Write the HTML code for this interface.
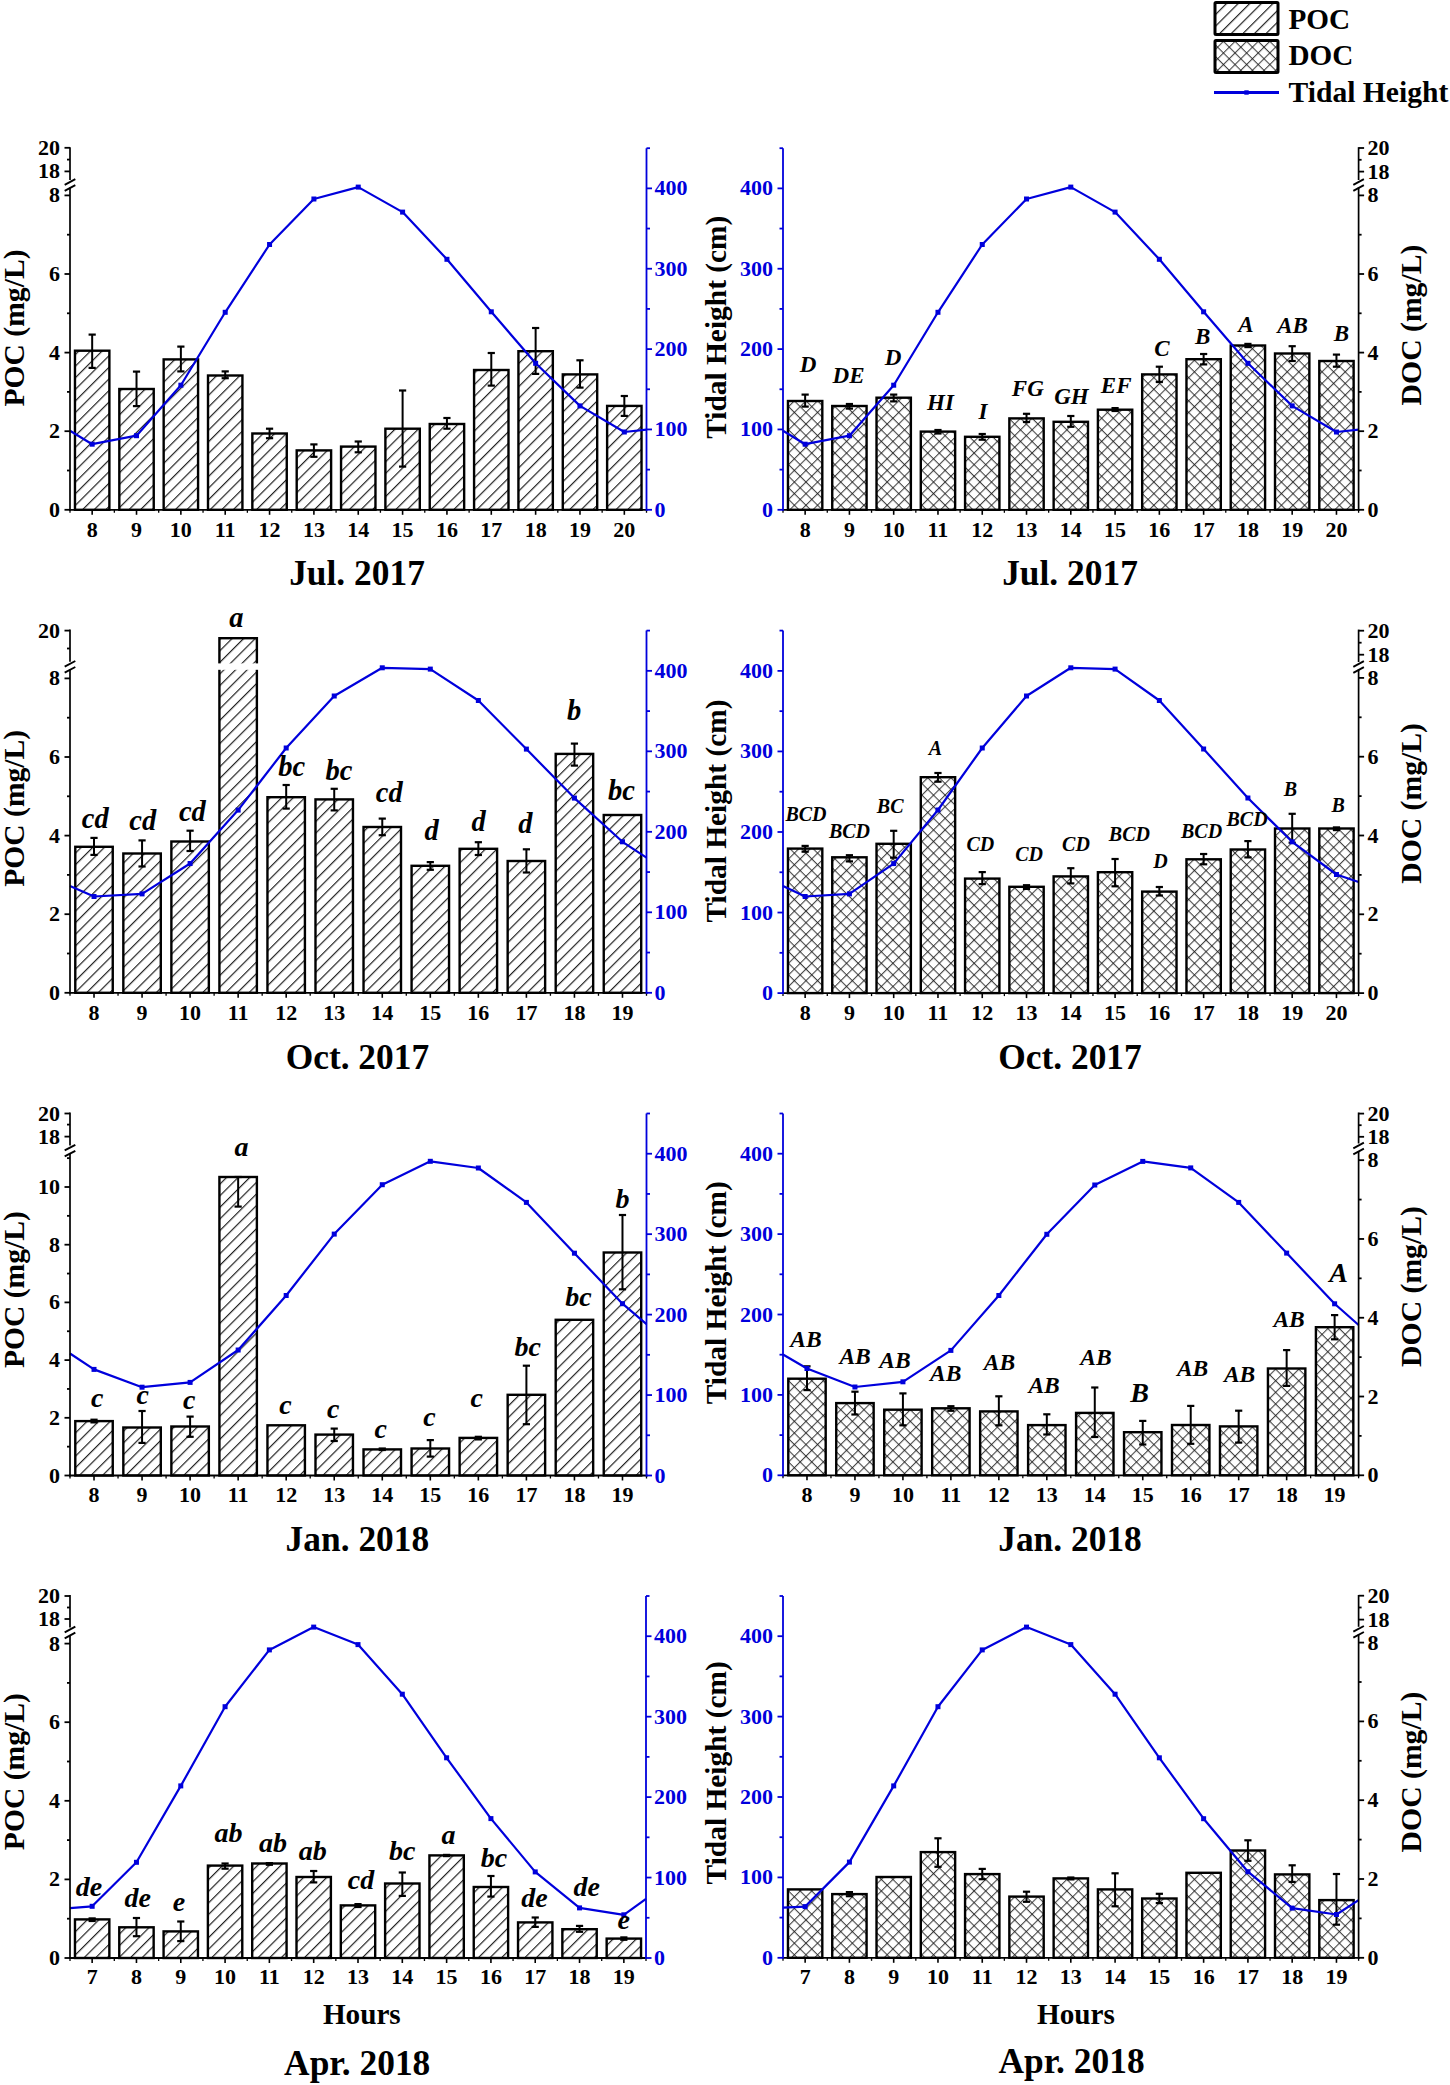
<!DOCTYPE html><html><head><meta charset="utf-8"><style>html,body{margin:0;padding:0;background:#fff;}svg{display:block;}text{font-family:"Liberation Serif",serif;font-weight:bold;}</style></head><body>
<svg width="1450" height="2085" viewBox="0 0 1450 2085">
<defs>
<pattern id="hatch" patternUnits="userSpaceOnUse" width="8.2" height="8.2" patternTransform="rotate(45)"><rect width="8.2" height="8.2" fill="#fff"/><line x1="0.6" y1="0" x2="0.6" y2="8.2" stroke="#1a1a1a" stroke-width="1.15"/></pattern>
<pattern id="cross" patternUnits="userSpaceOnUse" width="8.2" height="8.2" patternTransform="rotate(45)"><rect width="8.2" height="8.2" fill="#fff"/><line x1="0.6" y1="0" x2="0.6" y2="8.2" stroke="#1c1c1c" stroke-width="0.9"/><line x1="0" y1="0.6" x2="8.2" y2="0.6" stroke="#1c1c1c" stroke-width="0.9"/></pattern>
</defs>
<rect width="1450" height="2085" fill="#fff"/>
<rect x="74.97" y="350.7" width="34.41" height="159.1" fill="url(#hatch)" stroke="#000" stroke-width="2.4"/>
<line x1="92.17" y1="334.6" x2="92.17" y2="367.9" stroke="#000" stroke-width="2" stroke-linecap="butt"/>
<line x1="88.57" y1="334.6" x2="95.77" y2="334.6" stroke="#000" stroke-width="2.2" stroke-linecap="butt"/>
<line x1="88.57" y1="367.9" x2="95.77" y2="367.9" stroke="#000" stroke-width="2.2" stroke-linecap="butt"/>
<rect x="119.32" y="389" width="34.41" height="120.8" fill="url(#hatch)" stroke="#000" stroke-width="2.4"/>
<line x1="136.52" y1="371.6" x2="136.52" y2="406.1" stroke="#000" stroke-width="2" stroke-linecap="butt"/>
<line x1="132.92" y1="371.6" x2="140.12" y2="371.6" stroke="#000" stroke-width="2.2" stroke-linecap="butt"/>
<line x1="132.92" y1="406.1" x2="140.12" y2="406.1" stroke="#000" stroke-width="2.2" stroke-linecap="butt"/>
<rect x="163.66" y="359.4" width="34.41" height="150.4" fill="url(#hatch)" stroke="#000" stroke-width="2.4"/>
<line x1="180.87" y1="346.6" x2="180.87" y2="371.4" stroke="#000" stroke-width="2" stroke-linecap="butt"/>
<line x1="177.27" y1="346.6" x2="184.47" y2="346.6" stroke="#000" stroke-width="2.2" stroke-linecap="butt"/>
<line x1="177.27" y1="371.4" x2="184.47" y2="371.4" stroke="#000" stroke-width="2.2" stroke-linecap="butt"/>
<rect x="208.01" y="375.5" width="34.41" height="134.3" fill="url(#hatch)" stroke="#000" stroke-width="2.4"/>
<line x1="225.21" y1="371.4" x2="225.21" y2="378.2" stroke="#000" stroke-width="2" stroke-linecap="butt"/>
<line x1="221.61" y1="371.4" x2="228.81" y2="371.4" stroke="#000" stroke-width="2.2" stroke-linecap="butt"/>
<line x1="221.61" y1="378.2" x2="228.81" y2="378.2" stroke="#000" stroke-width="2.2" stroke-linecap="butt"/>
<rect x="252.35" y="433.5" width="34.41" height="76.3" fill="url(#hatch)" stroke="#000" stroke-width="2.4"/>
<line x1="269.56" y1="428.7" x2="269.56" y2="438.2" stroke="#000" stroke-width="2" stroke-linecap="butt"/>
<line x1="265.96" y1="428.7" x2="273.16" y2="428.7" stroke="#000" stroke-width="2.2" stroke-linecap="butt"/>
<line x1="265.96" y1="438.2" x2="273.16" y2="438.2" stroke="#000" stroke-width="2.2" stroke-linecap="butt"/>
<rect x="296.7" y="450.4" width="34.41" height="59.4" fill="url(#hatch)" stroke="#000" stroke-width="2.4"/>
<line x1="313.9" y1="444.4" x2="313.9" y2="456.8" stroke="#000" stroke-width="2" stroke-linecap="butt"/>
<line x1="310.3" y1="444.4" x2="317.5" y2="444.4" stroke="#000" stroke-width="2.2" stroke-linecap="butt"/>
<line x1="310.3" y1="456.8" x2="317.5" y2="456.8" stroke="#000" stroke-width="2.2" stroke-linecap="butt"/>
<rect x="341.05" y="446.6" width="34.41" height="63.2" fill="url(#hatch)" stroke="#000" stroke-width="2.4"/>
<line x1="358.25" y1="441.5" x2="358.25" y2="452.3" stroke="#000" stroke-width="2" stroke-linecap="butt"/>
<line x1="354.65" y1="441.5" x2="361.85" y2="441.5" stroke="#000" stroke-width="2.2" stroke-linecap="butt"/>
<line x1="354.65" y1="452.3" x2="361.85" y2="452.3" stroke="#000" stroke-width="2.2" stroke-linecap="butt"/>
<rect x="385.39" y="428.7" width="34.41" height="81.1" fill="url(#hatch)" stroke="#000" stroke-width="2.4"/>
<line x1="402.6" y1="390.5" x2="402.6" y2="466.6" stroke="#000" stroke-width="2" stroke-linecap="butt"/>
<line x1="399" y1="390.5" x2="406.2" y2="390.5" stroke="#000" stroke-width="2.2" stroke-linecap="butt"/>
<line x1="399" y1="466.6" x2="406.2" y2="466.6" stroke="#000" stroke-width="2.2" stroke-linecap="butt"/>
<rect x="429.74" y="424" width="34.41" height="85.8" fill="url(#hatch)" stroke="#000" stroke-width="2.4"/>
<line x1="446.94" y1="418" x2="446.94" y2="428.7" stroke="#000" stroke-width="2" stroke-linecap="butt"/>
<line x1="443.34" y1="418" x2="450.54" y2="418" stroke="#000" stroke-width="2.2" stroke-linecap="butt"/>
<line x1="443.34" y1="428.7" x2="450.54" y2="428.7" stroke="#000" stroke-width="2.2" stroke-linecap="butt"/>
<rect x="474.08" y="370" width="34.41" height="139.8" fill="url(#hatch)" stroke="#000" stroke-width="2.4"/>
<line x1="491.29" y1="353" x2="491.29" y2="385.6" stroke="#000" stroke-width="2" stroke-linecap="butt"/>
<line x1="487.69" y1="353" x2="494.89" y2="353" stroke="#000" stroke-width="2.2" stroke-linecap="butt"/>
<line x1="487.69" y1="385.6" x2="494.89" y2="385.6" stroke="#000" stroke-width="2.2" stroke-linecap="butt"/>
<rect x="518.43" y="351.2" width="34.41" height="158.6" fill="url(#hatch)" stroke="#000" stroke-width="2.4"/>
<line x1="535.63" y1="328" x2="535.63" y2="373.9" stroke="#000" stroke-width="2" stroke-linecap="butt"/>
<line x1="532.03" y1="328" x2="539.23" y2="328" stroke="#000" stroke-width="2.2" stroke-linecap="butt"/>
<line x1="532.03" y1="373.9" x2="539.23" y2="373.9" stroke="#000" stroke-width="2.2" stroke-linecap="butt"/>
<rect x="562.78" y="374.4" width="34.41" height="135.4" fill="url(#hatch)" stroke="#000" stroke-width="2.4"/>
<line x1="579.98" y1="360.3" x2="579.98" y2="387.6" stroke="#000" stroke-width="2" stroke-linecap="butt"/>
<line x1="576.38" y1="360.3" x2="583.58" y2="360.3" stroke="#000" stroke-width="2.2" stroke-linecap="butt"/>
<line x1="576.38" y1="387.6" x2="583.58" y2="387.6" stroke="#000" stroke-width="2.2" stroke-linecap="butt"/>
<rect x="607.12" y="405.9" width="34.41" height="103.9" fill="url(#hatch)" stroke="#000" stroke-width="2.4"/>
<line x1="624.33" y1="396" x2="624.33" y2="415.9" stroke="#000" stroke-width="2" stroke-linecap="butt"/>
<line x1="620.73" y1="396" x2="627.93" y2="396" stroke="#000" stroke-width="2.2" stroke-linecap="butt"/>
<line x1="620.73" y1="415.9" x2="627.93" y2="415.9" stroke="#000" stroke-width="2.2" stroke-linecap="butt"/>
<polyline fill="none" stroke="#0000dc" stroke-width="2.2" stroke-linejoin="round" points="70,430.8 92.17,444.2 136.52,435.7 180.87,385.2 225.21,312.3 269.56,244.5 313.9,199 358.25,187.1 402.6,212.1 446.94,259.3 491.29,311.8 535.63,363.3 579.98,405.9 624.33,432 646.5,429.6"/>
<rect x="89.67" y="441.7" width="5" height="5" fill="#0000dc"/>
<rect x="134.02" y="433.2" width="5" height="5" fill="#0000dc"/>
<rect x="178.37" y="382.7" width="5" height="5" fill="#0000dc"/>
<rect x="222.71" y="309.8" width="5" height="5" fill="#0000dc"/>
<rect x="267.06" y="242" width="5" height="5" fill="#0000dc"/>
<rect x="311.4" y="196.5" width="5" height="5" fill="#0000dc"/>
<rect x="355.75" y="184.6" width="5" height="5" fill="#0000dc"/>
<rect x="400.1" y="209.6" width="5" height="5" fill="#0000dc"/>
<rect x="444.44" y="256.8" width="5" height="5" fill="#0000dc"/>
<rect x="488.79" y="309.3" width="5" height="5" fill="#0000dc"/>
<rect x="533.13" y="360.8" width="5" height="5" fill="#0000dc"/>
<rect x="577.48" y="403.4" width="5" height="5" fill="#0000dc"/>
<rect x="621.83" y="429.5" width="5" height="5" fill="#0000dc"/>
<line x1="69" y1="509.8" x2="647.5" y2="509.8" stroke="#000" stroke-width="1.8" stroke-linecap="butt"/>
<line x1="92.17" y1="509.8" x2="92.17" y2="514.8" stroke="#000" stroke-width="1.6" stroke-linecap="butt"/>
<text x="92.17" y="536.5" font-size="22" text-anchor="middle" fill="#000" style="" >8</text>
<line x1="136.52" y1="509.8" x2="136.52" y2="514.8" stroke="#000" stroke-width="1.6" stroke-linecap="butt"/>
<text x="136.52" y="536.5" font-size="22" text-anchor="middle" fill="#000" style="" >9</text>
<line x1="180.87" y1="509.8" x2="180.87" y2="514.8" stroke="#000" stroke-width="1.6" stroke-linecap="butt"/>
<text x="180.87" y="536.5" font-size="22" text-anchor="middle" fill="#000" style="" >10</text>
<line x1="225.21" y1="509.8" x2="225.21" y2="514.8" stroke="#000" stroke-width="1.6" stroke-linecap="butt"/>
<text x="225.21" y="536.5" font-size="22" text-anchor="middle" fill="#000" style="" >11</text>
<line x1="269.56" y1="509.8" x2="269.56" y2="514.8" stroke="#000" stroke-width="1.6" stroke-linecap="butt"/>
<text x="269.56" y="536.5" font-size="22" text-anchor="middle" fill="#000" style="" >12</text>
<line x1="313.9" y1="509.8" x2="313.9" y2="514.8" stroke="#000" stroke-width="1.6" stroke-linecap="butt"/>
<text x="313.9" y="536.5" font-size="22" text-anchor="middle" fill="#000" style="" >13</text>
<line x1="358.25" y1="509.8" x2="358.25" y2="514.8" stroke="#000" stroke-width="1.6" stroke-linecap="butt"/>
<text x="358.25" y="536.5" font-size="22" text-anchor="middle" fill="#000" style="" >14</text>
<line x1="402.6" y1="509.8" x2="402.6" y2="514.8" stroke="#000" stroke-width="1.6" stroke-linecap="butt"/>
<text x="402.6" y="536.5" font-size="22" text-anchor="middle" fill="#000" style="" >15</text>
<line x1="446.94" y1="509.8" x2="446.94" y2="514.8" stroke="#000" stroke-width="1.6" stroke-linecap="butt"/>
<text x="446.94" y="536.5" font-size="22" text-anchor="middle" fill="#000" style="" >16</text>
<line x1="491.29" y1="509.8" x2="491.29" y2="514.8" stroke="#000" stroke-width="1.6" stroke-linecap="butt"/>
<text x="491.29" y="536.5" font-size="22" text-anchor="middle" fill="#000" style="" >17</text>
<line x1="535.63" y1="509.8" x2="535.63" y2="514.8" stroke="#000" stroke-width="1.6" stroke-linecap="butt"/>
<text x="535.63" y="536.5" font-size="22" text-anchor="middle" fill="#000" style="" >18</text>
<line x1="579.98" y1="509.8" x2="579.98" y2="514.8" stroke="#000" stroke-width="1.6" stroke-linecap="butt"/>
<text x="579.98" y="536.5" font-size="22" text-anchor="middle" fill="#000" style="" >19</text>
<line x1="624.33" y1="509.8" x2="624.33" y2="514.8" stroke="#000" stroke-width="1.6" stroke-linecap="butt"/>
<text x="624.33" y="536.5" font-size="22" text-anchor="middle" fill="#000" style="" >20</text>
<line x1="70" y1="509.8" x2="70" y2="512.8" stroke="#000" stroke-width="1.3" stroke-linecap="butt"/>
<line x1="114.35" y1="509.8" x2="114.35" y2="512.8" stroke="#000" stroke-width="1.3" stroke-linecap="butt"/>
<line x1="158.69" y1="509.8" x2="158.69" y2="512.8" stroke="#000" stroke-width="1.3" stroke-linecap="butt"/>
<line x1="203.04" y1="509.8" x2="203.04" y2="512.8" stroke="#000" stroke-width="1.3" stroke-linecap="butt"/>
<line x1="247.38" y1="509.8" x2="247.38" y2="512.8" stroke="#000" stroke-width="1.3" stroke-linecap="butt"/>
<line x1="291.73" y1="509.8" x2="291.73" y2="512.8" stroke="#000" stroke-width="1.3" stroke-linecap="butt"/>
<line x1="336.08" y1="509.8" x2="336.08" y2="512.8" stroke="#000" stroke-width="1.3" stroke-linecap="butt"/>
<line x1="380.42" y1="509.8" x2="380.42" y2="512.8" stroke="#000" stroke-width="1.3" stroke-linecap="butt"/>
<line x1="424.77" y1="509.8" x2="424.77" y2="512.8" stroke="#000" stroke-width="1.3" stroke-linecap="butt"/>
<line x1="469.12" y1="509.8" x2="469.12" y2="512.8" stroke="#000" stroke-width="1.3" stroke-linecap="butt"/>
<line x1="513.46" y1="509.8" x2="513.46" y2="512.8" stroke="#000" stroke-width="1.3" stroke-linecap="butt"/>
<line x1="557.81" y1="509.8" x2="557.81" y2="512.8" stroke="#000" stroke-width="1.3" stroke-linecap="butt"/>
<line x1="602.15" y1="509.8" x2="602.15" y2="512.8" stroke="#000" stroke-width="1.3" stroke-linecap="butt"/>
<line x1="646.5" y1="509.8" x2="646.5" y2="512.8" stroke="#000" stroke-width="1.3" stroke-linecap="butt"/>
<line x1="646.5" y1="148.2" x2="646.5" y2="510.8" stroke="#0000dc" stroke-width="1.8" stroke-linecap="butt"/>
<line x1="646.5" y1="509.8" x2="652" y2="509.8" stroke="#0000dc" stroke-width="1.8" stroke-linecap="butt"/>
<text x="654.5" y="516.8" font-size="22" text-anchor="start" fill="#0000dc" style="" >0</text>
<line x1="646.5" y1="469.62" x2="650" y2="469.62" stroke="#0000dc" stroke-width="1.8" stroke-linecap="butt"/>
<line x1="646.5" y1="429.44" x2="652" y2="429.44" stroke="#0000dc" stroke-width="1.8" stroke-linecap="butt"/>
<text x="654.5" y="436.44" font-size="22" text-anchor="start" fill="#0000dc" style="" >100</text>
<line x1="646.5" y1="389.27" x2="650" y2="389.27" stroke="#0000dc" stroke-width="1.8" stroke-linecap="butt"/>
<line x1="646.5" y1="349.09" x2="652" y2="349.09" stroke="#0000dc" stroke-width="1.8" stroke-linecap="butt"/>
<text x="654.5" y="356.09" font-size="22" text-anchor="start" fill="#0000dc" style="" >200</text>
<line x1="646.5" y1="308.91" x2="650" y2="308.91" stroke="#0000dc" stroke-width="1.8" stroke-linecap="butt"/>
<line x1="646.5" y1="268.73" x2="652" y2="268.73" stroke="#0000dc" stroke-width="1.8" stroke-linecap="butt"/>
<text x="654.5" y="275.73" font-size="22" text-anchor="start" fill="#0000dc" style="" >300</text>
<line x1="646.5" y1="228.56" x2="650" y2="228.56" stroke="#0000dc" stroke-width="1.8" stroke-linecap="butt"/>
<line x1="646.5" y1="188.38" x2="652" y2="188.38" stroke="#0000dc" stroke-width="1.8" stroke-linecap="butt"/>
<text x="654.5" y="195.38" font-size="22" text-anchor="start" fill="#0000dc" style="" >400</text>
<line x1="646.5" y1="148.2" x2="650" y2="148.2" stroke="#0000dc" stroke-width="1.8" stroke-linecap="butt"/>
<line x1="70" y1="510.8" x2="70" y2="187.5" stroke="#000" stroke-width="1.7" stroke-linecap="butt"/>
<line x1="70" y1="180" x2="70" y2="147.2" stroke="#000" stroke-width="1.7" stroke-linecap="butt"/>
<line x1="64.7" y1="184.8" x2="75.3" y2="179.2" stroke="#000" stroke-width="1.9" stroke-linecap="butt"/>
<line x1="64.7" y1="190.8" x2="75.3" y2="185.2" stroke="#000" stroke-width="1.9" stroke-linecap="butt"/>
<line x1="70" y1="509.8" x2="64.5" y2="509.8" stroke="#000" stroke-width="1.8" stroke-linecap="butt"/>
<text x="60" y="516.8" font-size="22" text-anchor="end" fill="#000" style="" >0</text>
<line x1="70" y1="470.5" x2="67" y2="470.5" stroke="#000" stroke-width="1.8" stroke-linecap="butt"/>
<line x1="70" y1="431.2" x2="64.5" y2="431.2" stroke="#000" stroke-width="1.8" stroke-linecap="butt"/>
<text x="60" y="438.2" font-size="22" text-anchor="end" fill="#000" style="" >2</text>
<line x1="70" y1="391.9" x2="67" y2="391.9" stroke="#000" stroke-width="1.8" stroke-linecap="butt"/>
<line x1="70" y1="352.6" x2="64.5" y2="352.6" stroke="#000" stroke-width="1.8" stroke-linecap="butt"/>
<text x="60" y="359.6" font-size="22" text-anchor="end" fill="#000" style="" >4</text>
<line x1="70" y1="313.3" x2="67" y2="313.3" stroke="#000" stroke-width="1.8" stroke-linecap="butt"/>
<line x1="70" y1="274" x2="64.5" y2="274" stroke="#000" stroke-width="1.8" stroke-linecap="butt"/>
<text x="60" y="281" font-size="22" text-anchor="end" fill="#000" style="" >6</text>
<line x1="70" y1="234.7" x2="67" y2="234.7" stroke="#000" stroke-width="1.8" stroke-linecap="butt"/>
<line x1="70" y1="195.4" x2="64.5" y2="195.4" stroke="#000" stroke-width="1.8" stroke-linecap="butt"/>
<text x="60" y="202.4" font-size="22" text-anchor="end" fill="#000" style="" >8</text>
<line x1="70" y1="171.4" x2="64.5" y2="171.4" stroke="#000" stroke-width="1.8" stroke-linecap="butt"/>
<text x="60" y="178.4" font-size="22" text-anchor="end" fill="#000" style="" >18</text>
<line x1="70" y1="159.6" x2="67" y2="159.6" stroke="#000" stroke-width="1.8" stroke-linecap="butt"/>
<line x1="70" y1="147.8" x2="64.5" y2="147.8" stroke="#000" stroke-width="1.8" stroke-linecap="butt"/>
<text x="60" y="154.8" font-size="22" text-anchor="end" fill="#000" style="" >20</text>
<text transform="translate(23.5,328) rotate(-90)" font-size="29.6" text-anchor="middle">POC (mg/L)</text>
<text transform="translate(726.2,327.2) rotate(-90)" font-size="29.4" text-anchor="middle">Tidal Height (cm)</text>
<text x="357" y="585.2" font-size="35.4" text-anchor="middle" fill="#000" style="" >Jul. 2017</text>
<rect x="787.96" y="401" width="34.35" height="108.8" fill="url(#cross)" stroke="#000" stroke-width="2.4"/>
<line x1="805.14" y1="394.6" x2="805.14" y2="406.6" stroke="#000" stroke-width="2" stroke-linecap="butt"/>
<line x1="801.54" y1="394.6" x2="808.74" y2="394.6" stroke="#000" stroke-width="2.2" stroke-linecap="butt"/>
<line x1="801.54" y1="406.6" x2="808.74" y2="406.6" stroke="#000" stroke-width="2.2" stroke-linecap="butt"/>
<rect x="832.24" y="406" width="34.35" height="103.8" fill="url(#cross)" stroke="#000" stroke-width="2.4"/>
<line x1="849.42" y1="404" x2="849.42" y2="408.6" stroke="#000" stroke-width="2" stroke-linecap="butt"/>
<line x1="845.82" y1="404" x2="853.02" y2="404" stroke="#000" stroke-width="2.2" stroke-linecap="butt"/>
<line x1="845.82" y1="408.6" x2="853.02" y2="408.6" stroke="#000" stroke-width="2.2" stroke-linecap="butt"/>
<rect x="876.52" y="397.7" width="34.35" height="112.1" fill="url(#cross)" stroke="#000" stroke-width="2.4"/>
<line x1="893.69" y1="394.6" x2="893.69" y2="401.4" stroke="#000" stroke-width="2" stroke-linecap="butt"/>
<line x1="890.09" y1="394.6" x2="897.29" y2="394.6" stroke="#000" stroke-width="2.2" stroke-linecap="butt"/>
<line x1="890.09" y1="401.4" x2="897.29" y2="401.4" stroke="#000" stroke-width="2.2" stroke-linecap="butt"/>
<rect x="920.79" y="431.6" width="34.35" height="78.2" fill="url(#cross)" stroke="#000" stroke-width="2.4"/>
<line x1="937.97" y1="430" x2="937.97" y2="433.5" stroke="#000" stroke-width="2" stroke-linecap="butt"/>
<line x1="934.37" y1="430" x2="941.57" y2="430" stroke="#000" stroke-width="2.2" stroke-linecap="butt"/>
<line x1="934.37" y1="433.5" x2="941.57" y2="433.5" stroke="#000" stroke-width="2.2" stroke-linecap="butt"/>
<rect x="965.07" y="436.8" width="34.35" height="73" fill="url(#cross)" stroke="#000" stroke-width="2.4"/>
<line x1="982.25" y1="434" x2="982.25" y2="439.7" stroke="#000" stroke-width="2" stroke-linecap="butt"/>
<line x1="978.65" y1="434" x2="985.85" y2="434" stroke="#000" stroke-width="2.2" stroke-linecap="butt"/>
<line x1="978.65" y1="439.7" x2="985.85" y2="439.7" stroke="#000" stroke-width="2.2" stroke-linecap="butt"/>
<rect x="1009.35" y="418.4" width="34.35" height="91.4" fill="url(#cross)" stroke="#000" stroke-width="2.4"/>
<line x1="1026.52" y1="413.8" x2="1026.52" y2="422" stroke="#000" stroke-width="2" stroke-linecap="butt"/>
<line x1="1022.92" y1="413.8" x2="1030.12" y2="413.8" stroke="#000" stroke-width="2.2" stroke-linecap="butt"/>
<line x1="1022.92" y1="422" x2="1030.12" y2="422" stroke="#000" stroke-width="2.2" stroke-linecap="butt"/>
<rect x="1053.63" y="421.8" width="34.35" height="88" fill="url(#cross)" stroke="#000" stroke-width="2.4"/>
<line x1="1070.8" y1="416" x2="1070.8" y2="426.8" stroke="#000" stroke-width="2" stroke-linecap="butt"/>
<line x1="1067.2" y1="416" x2="1074.4" y2="416" stroke="#000" stroke-width="2.2" stroke-linecap="butt"/>
<line x1="1067.2" y1="426.8" x2="1074.4" y2="426.8" stroke="#000" stroke-width="2.2" stroke-linecap="butt"/>
<rect x="1097.9" y="409.7" width="34.35" height="100.1" fill="url(#cross)" stroke="#000" stroke-width="2.4"/>
<line x1="1115.08" y1="408.1" x2="1115.08" y2="411" stroke="#000" stroke-width="2" stroke-linecap="butt"/>
<line x1="1111.48" y1="408.1" x2="1118.68" y2="408.1" stroke="#000" stroke-width="2.2" stroke-linecap="butt"/>
<line x1="1111.48" y1="411" x2="1118.68" y2="411" stroke="#000" stroke-width="2.2" stroke-linecap="butt"/>
<rect x="1142.18" y="374.4" width="34.35" height="135.4" fill="url(#cross)" stroke="#000" stroke-width="2.4"/>
<line x1="1159.35" y1="366.7" x2="1159.35" y2="382" stroke="#000" stroke-width="2" stroke-linecap="butt"/>
<line x1="1155.75" y1="366.7" x2="1162.95" y2="366.7" stroke="#000" stroke-width="2.2" stroke-linecap="butt"/>
<line x1="1155.75" y1="382" x2="1162.95" y2="382" stroke="#000" stroke-width="2.2" stroke-linecap="butt"/>
<rect x="1186.46" y="359.2" width="34.35" height="150.6" fill="url(#cross)" stroke="#000" stroke-width="2.4"/>
<line x1="1203.63" y1="354" x2="1203.63" y2="364.4" stroke="#000" stroke-width="2" stroke-linecap="butt"/>
<line x1="1200.03" y1="354" x2="1207.23" y2="354" stroke="#000" stroke-width="2.2" stroke-linecap="butt"/>
<line x1="1200.03" y1="364.4" x2="1207.23" y2="364.4" stroke="#000" stroke-width="2.2" stroke-linecap="butt"/>
<rect x="1230.73" y="345.5" width="34.35" height="164.3" fill="url(#cross)" stroke="#000" stroke-width="2.4"/>
<line x1="1247.91" y1="343.9" x2="1247.91" y2="347.1" stroke="#000" stroke-width="2" stroke-linecap="butt"/>
<line x1="1244.31" y1="343.9" x2="1251.51" y2="343.9" stroke="#000" stroke-width="2.2" stroke-linecap="butt"/>
<line x1="1244.31" y1="347.1" x2="1251.51" y2="347.1" stroke="#000" stroke-width="2.2" stroke-linecap="butt"/>
<rect x="1275.01" y="353.5" width="34.35" height="156.3" fill="url(#cross)" stroke="#000" stroke-width="2.4"/>
<line x1="1292.18" y1="346.2" x2="1292.18" y2="361" stroke="#000" stroke-width="2" stroke-linecap="butt"/>
<line x1="1288.58" y1="346.2" x2="1295.78" y2="346.2" stroke="#000" stroke-width="2.2" stroke-linecap="butt"/>
<line x1="1288.58" y1="361" x2="1295.78" y2="361" stroke="#000" stroke-width="2.2" stroke-linecap="butt"/>
<rect x="1319.29" y="361" width="34.35" height="148.8" fill="url(#cross)" stroke="#000" stroke-width="2.4"/>
<line x1="1336.46" y1="354.6" x2="1336.46" y2="366.7" stroke="#000" stroke-width="2" stroke-linecap="butt"/>
<line x1="1332.86" y1="354.6" x2="1340.06" y2="354.6" stroke="#000" stroke-width="2.2" stroke-linecap="butt"/>
<line x1="1332.86" y1="366.7" x2="1340.06" y2="366.7" stroke="#000" stroke-width="2.2" stroke-linecap="butt"/>
<polyline fill="none" stroke="#0000dc" stroke-width="2.2" stroke-linejoin="round" points="783,430.8 805.14,444.2 849.42,435.7 893.69,385.2 937.97,312.3 982.25,244.5 1026.52,199 1070.8,187.1 1115.08,212.1 1159.35,259.3 1203.63,311.8 1247.91,363.3 1292.18,405.9 1336.46,432 1358.6,429.6"/>
<rect x="802.64" y="441.7" width="5" height="5" fill="#0000dc"/>
<rect x="846.92" y="433.2" width="5" height="5" fill="#0000dc"/>
<rect x="891.19" y="382.7" width="5" height="5" fill="#0000dc"/>
<rect x="935.47" y="309.8" width="5" height="5" fill="#0000dc"/>
<rect x="979.75" y="242" width="5" height="5" fill="#0000dc"/>
<rect x="1024.02" y="196.5" width="5" height="5" fill="#0000dc"/>
<rect x="1068.3" y="184.6" width="5" height="5" fill="#0000dc"/>
<rect x="1112.58" y="209.6" width="5" height="5" fill="#0000dc"/>
<rect x="1156.85" y="256.8" width="5" height="5" fill="#0000dc"/>
<rect x="1201.13" y="309.3" width="5" height="5" fill="#0000dc"/>
<rect x="1245.41" y="360.8" width="5" height="5" fill="#0000dc"/>
<rect x="1289.68" y="403.4" width="5" height="5" fill="#0000dc"/>
<rect x="1333.96" y="429.5" width="5" height="5" fill="#0000dc"/>
<text x="808" y="372" font-size="23" text-anchor="middle" fill="#000" style="font-style:italic;" >D</text>
<text x="848.5" y="382.8" font-size="23" text-anchor="middle" fill="#000" style="font-style:italic;" >DE</text>
<text x="893" y="364.8" font-size="23" text-anchor="middle" fill="#000" style="font-style:italic;" >D</text>
<text x="940.5" y="410" font-size="23" text-anchor="middle" fill="#000" style="font-style:italic;" >HI</text>
<text x="983" y="419" font-size="23" text-anchor="middle" fill="#000" style="font-style:italic;" >I</text>
<text x="1027.8" y="396.2" font-size="23" text-anchor="middle" fill="#000" style="font-style:italic;" >FG</text>
<text x="1071.4" y="403.6" font-size="23" text-anchor="middle" fill="#000" style="font-style:italic;" >GH</text>
<text x="1116.2" y="393.3" font-size="23" text-anchor="middle" fill="#000" style="font-style:italic;" >EF</text>
<text x="1161.8" y="355.8" font-size="23" text-anchor="middle" fill="#000" style="font-style:italic;" >C</text>
<text x="1202.7" y="344.4" font-size="23" text-anchor="middle" fill="#000" style="font-style:italic;" >B</text>
<text x="1246" y="331.9" font-size="23" text-anchor="middle" fill="#000" style="font-style:italic;" >A</text>
<text x="1292.6" y="332.5" font-size="23" text-anchor="middle" fill="#000" style="font-style:italic;" >AB</text>
<text x="1341.5" y="341" font-size="23" text-anchor="middle" fill="#000" style="font-style:italic;" >B</text>
<line x1="782" y1="509.8" x2="1359.6" y2="509.8" stroke="#000" stroke-width="1.8" stroke-linecap="butt"/>
<line x1="805.14" y1="509.8" x2="805.14" y2="514.8" stroke="#000" stroke-width="1.6" stroke-linecap="butt"/>
<text x="805.14" y="536.5" font-size="22" text-anchor="middle" fill="#000" style="" >8</text>
<line x1="849.42" y1="509.8" x2="849.42" y2="514.8" stroke="#000" stroke-width="1.6" stroke-linecap="butt"/>
<text x="849.42" y="536.5" font-size="22" text-anchor="middle" fill="#000" style="" >9</text>
<line x1="893.69" y1="509.8" x2="893.69" y2="514.8" stroke="#000" stroke-width="1.6" stroke-linecap="butt"/>
<text x="893.69" y="536.5" font-size="22" text-anchor="middle" fill="#000" style="" >10</text>
<line x1="937.97" y1="509.8" x2="937.97" y2="514.8" stroke="#000" stroke-width="1.6" stroke-linecap="butt"/>
<text x="937.97" y="536.5" font-size="22" text-anchor="middle" fill="#000" style="" >11</text>
<line x1="982.25" y1="509.8" x2="982.25" y2="514.8" stroke="#000" stroke-width="1.6" stroke-linecap="butt"/>
<text x="982.25" y="536.5" font-size="22" text-anchor="middle" fill="#000" style="" >12</text>
<line x1="1026.52" y1="509.8" x2="1026.52" y2="514.8" stroke="#000" stroke-width="1.6" stroke-linecap="butt"/>
<text x="1026.52" y="536.5" font-size="22" text-anchor="middle" fill="#000" style="" >13</text>
<line x1="1070.8" y1="509.8" x2="1070.8" y2="514.8" stroke="#000" stroke-width="1.6" stroke-linecap="butt"/>
<text x="1070.8" y="536.5" font-size="22" text-anchor="middle" fill="#000" style="" >14</text>
<line x1="1115.08" y1="509.8" x2="1115.08" y2="514.8" stroke="#000" stroke-width="1.6" stroke-linecap="butt"/>
<text x="1115.08" y="536.5" font-size="22" text-anchor="middle" fill="#000" style="" >15</text>
<line x1="1159.35" y1="509.8" x2="1159.35" y2="514.8" stroke="#000" stroke-width="1.6" stroke-linecap="butt"/>
<text x="1159.35" y="536.5" font-size="22" text-anchor="middle" fill="#000" style="" >16</text>
<line x1="1203.63" y1="509.8" x2="1203.63" y2="514.8" stroke="#000" stroke-width="1.6" stroke-linecap="butt"/>
<text x="1203.63" y="536.5" font-size="22" text-anchor="middle" fill="#000" style="" >17</text>
<line x1="1247.91" y1="509.8" x2="1247.91" y2="514.8" stroke="#000" stroke-width="1.6" stroke-linecap="butt"/>
<text x="1247.91" y="536.5" font-size="22" text-anchor="middle" fill="#000" style="" >18</text>
<line x1="1292.18" y1="509.8" x2="1292.18" y2="514.8" stroke="#000" stroke-width="1.6" stroke-linecap="butt"/>
<text x="1292.18" y="536.5" font-size="22" text-anchor="middle" fill="#000" style="" >19</text>
<line x1="1336.46" y1="509.8" x2="1336.46" y2="514.8" stroke="#000" stroke-width="1.6" stroke-linecap="butt"/>
<text x="1336.46" y="536.5" font-size="22" text-anchor="middle" fill="#000" style="" >20</text>
<line x1="783" y1="509.8" x2="783" y2="512.8" stroke="#000" stroke-width="1.3" stroke-linecap="butt"/>
<line x1="827.28" y1="509.8" x2="827.28" y2="512.8" stroke="#000" stroke-width="1.3" stroke-linecap="butt"/>
<line x1="871.55" y1="509.8" x2="871.55" y2="512.8" stroke="#000" stroke-width="1.3" stroke-linecap="butt"/>
<line x1="915.83" y1="509.8" x2="915.83" y2="512.8" stroke="#000" stroke-width="1.3" stroke-linecap="butt"/>
<line x1="960.11" y1="509.8" x2="960.11" y2="512.8" stroke="#000" stroke-width="1.3" stroke-linecap="butt"/>
<line x1="1004.38" y1="509.8" x2="1004.38" y2="512.8" stroke="#000" stroke-width="1.3" stroke-linecap="butt"/>
<line x1="1048.66" y1="509.8" x2="1048.66" y2="512.8" stroke="#000" stroke-width="1.3" stroke-linecap="butt"/>
<line x1="1092.94" y1="509.8" x2="1092.94" y2="512.8" stroke="#000" stroke-width="1.3" stroke-linecap="butt"/>
<line x1="1137.22" y1="509.8" x2="1137.22" y2="512.8" stroke="#000" stroke-width="1.3" stroke-linecap="butt"/>
<line x1="1181.49" y1="509.8" x2="1181.49" y2="512.8" stroke="#000" stroke-width="1.3" stroke-linecap="butt"/>
<line x1="1225.77" y1="509.8" x2="1225.77" y2="512.8" stroke="#000" stroke-width="1.3" stroke-linecap="butt"/>
<line x1="1270.05" y1="509.8" x2="1270.05" y2="512.8" stroke="#000" stroke-width="1.3" stroke-linecap="butt"/>
<line x1="1314.32" y1="509.8" x2="1314.32" y2="512.8" stroke="#000" stroke-width="1.3" stroke-linecap="butt"/>
<line x1="1358.6" y1="509.8" x2="1358.6" y2="512.8" stroke="#000" stroke-width="1.3" stroke-linecap="butt"/>
<line x1="783" y1="148.2" x2="783" y2="510.8" stroke="#0000dc" stroke-width="1.8" stroke-linecap="butt"/>
<line x1="783" y1="509.8" x2="777.5" y2="509.8" stroke="#0000dc" stroke-width="1.8" stroke-linecap="butt"/>
<text x="773" y="516.8" font-size="22" text-anchor="end" fill="#0000dc" style="" >0</text>
<line x1="783" y1="469.62" x2="779.5" y2="469.62" stroke="#0000dc" stroke-width="1.8" stroke-linecap="butt"/>
<line x1="783" y1="429.44" x2="777.5" y2="429.44" stroke="#0000dc" stroke-width="1.8" stroke-linecap="butt"/>
<text x="773" y="436.44" font-size="22" text-anchor="end" fill="#0000dc" style="" >100</text>
<line x1="783" y1="389.27" x2="779.5" y2="389.27" stroke="#0000dc" stroke-width="1.8" stroke-linecap="butt"/>
<line x1="783" y1="349.09" x2="777.5" y2="349.09" stroke="#0000dc" stroke-width="1.8" stroke-linecap="butt"/>
<text x="773" y="356.09" font-size="22" text-anchor="end" fill="#0000dc" style="" >200</text>
<line x1="783" y1="308.91" x2="779.5" y2="308.91" stroke="#0000dc" stroke-width="1.8" stroke-linecap="butt"/>
<line x1="783" y1="268.73" x2="777.5" y2="268.73" stroke="#0000dc" stroke-width="1.8" stroke-linecap="butt"/>
<text x="773" y="275.73" font-size="22" text-anchor="end" fill="#0000dc" style="" >300</text>
<line x1="783" y1="228.56" x2="779.5" y2="228.56" stroke="#0000dc" stroke-width="1.8" stroke-linecap="butt"/>
<line x1="783" y1="188.38" x2="777.5" y2="188.38" stroke="#0000dc" stroke-width="1.8" stroke-linecap="butt"/>
<text x="773" y="195.38" font-size="22" text-anchor="end" fill="#0000dc" style="" >400</text>
<line x1="783" y1="148.2" x2="779.5" y2="148.2" stroke="#0000dc" stroke-width="1.8" stroke-linecap="butt"/>
<line x1="1358.6" y1="510.8" x2="1358.6" y2="187.5" stroke="#000" stroke-width="1.7" stroke-linecap="butt"/>
<line x1="1358.6" y1="180" x2="1358.6" y2="147.2" stroke="#000" stroke-width="1.7" stroke-linecap="butt"/>
<line x1="1353.3" y1="184.8" x2="1363.9" y2="179.2" stroke="#000" stroke-width="1.9" stroke-linecap="butt"/>
<line x1="1353.3" y1="190.8" x2="1363.9" y2="185.2" stroke="#000" stroke-width="1.9" stroke-linecap="butt"/>
<line x1="1358.6" y1="509.8" x2="1364.1" y2="509.8" stroke="#000" stroke-width="1.8" stroke-linecap="butt"/>
<text x="1367.6" y="516.8" font-size="22" text-anchor="start" fill="#000" style="" >0</text>
<line x1="1358.6" y1="470.5" x2="1361.6" y2="470.5" stroke="#000" stroke-width="1.8" stroke-linecap="butt"/>
<line x1="1358.6" y1="431.2" x2="1364.1" y2="431.2" stroke="#000" stroke-width="1.8" stroke-linecap="butt"/>
<text x="1367.6" y="438.2" font-size="22" text-anchor="start" fill="#000" style="" >2</text>
<line x1="1358.6" y1="391.9" x2="1361.6" y2="391.9" stroke="#000" stroke-width="1.8" stroke-linecap="butt"/>
<line x1="1358.6" y1="352.6" x2="1364.1" y2="352.6" stroke="#000" stroke-width="1.8" stroke-linecap="butt"/>
<text x="1367.6" y="359.6" font-size="22" text-anchor="start" fill="#000" style="" >4</text>
<line x1="1358.6" y1="313.3" x2="1361.6" y2="313.3" stroke="#000" stroke-width="1.8" stroke-linecap="butt"/>
<line x1="1358.6" y1="274" x2="1364.1" y2="274" stroke="#000" stroke-width="1.8" stroke-linecap="butt"/>
<text x="1367.6" y="281" font-size="22" text-anchor="start" fill="#000" style="" >6</text>
<line x1="1358.6" y1="234.7" x2="1361.6" y2="234.7" stroke="#000" stroke-width="1.8" stroke-linecap="butt"/>
<line x1="1358.6" y1="195.4" x2="1364.1" y2="195.4" stroke="#000" stroke-width="1.8" stroke-linecap="butt"/>
<text x="1367.6" y="202.4" font-size="22" text-anchor="start" fill="#000" style="" >8</text>
<line x1="1358.6" y1="171.6" x2="1364.1" y2="171.6" stroke="#000" stroke-width="1.8" stroke-linecap="butt"/>
<text x="1367.6" y="178.6" font-size="22" text-anchor="start" fill="#000" style="" >18</text>
<line x1="1358.6" y1="159.8" x2="1361.6" y2="159.8" stroke="#000" stroke-width="1.8" stroke-linecap="butt"/>
<line x1="1358.6" y1="148" x2="1364.1" y2="148" stroke="#000" stroke-width="1.8" stroke-linecap="butt"/>
<text x="1367.6" y="155" font-size="22" text-anchor="start" fill="#000" style="" >20</text>
<text transform="translate(1420.5,325) rotate(-90)" font-size="29.7" text-anchor="middle">DOC (mg/L)</text>
<text x="1070" y="585.2" font-size="35.4" text-anchor="middle" fill="#000" style="" >Jul. 2017</text>
<rect x="75.28" y="846.8" width="37.47" height="146" fill="url(#hatch)" stroke="#000" stroke-width="2.4"/>
<line x1="94.02" y1="837.9" x2="94.02" y2="854.9" stroke="#000" stroke-width="2" stroke-linecap="butt"/>
<line x1="90.42" y1="837.9" x2="97.62" y2="837.9" stroke="#000" stroke-width="2.2" stroke-linecap="butt"/>
<line x1="90.42" y1="854.9" x2="97.62" y2="854.9" stroke="#000" stroke-width="2.2" stroke-linecap="butt"/>
<rect x="123.33" y="853.5" width="37.47" height="139.3" fill="url(#hatch)" stroke="#000" stroke-width="2.4"/>
<line x1="142.06" y1="840.4" x2="142.06" y2="866.5" stroke="#000" stroke-width="2" stroke-linecap="butt"/>
<line x1="138.46" y1="840.4" x2="145.66" y2="840.4" stroke="#000" stroke-width="2.2" stroke-linecap="butt"/>
<line x1="138.46" y1="866.5" x2="145.66" y2="866.5" stroke="#000" stroke-width="2.2" stroke-linecap="butt"/>
<rect x="171.37" y="841.5" width="37.47" height="151.3" fill="url(#hatch)" stroke="#000" stroke-width="2.4"/>
<line x1="190.1" y1="830.7" x2="190.1" y2="851" stroke="#000" stroke-width="2" stroke-linecap="butt"/>
<line x1="186.5" y1="830.7" x2="193.7" y2="830.7" stroke="#000" stroke-width="2.2" stroke-linecap="butt"/>
<line x1="186.5" y1="851" x2="193.7" y2="851" stroke="#000" stroke-width="2.2" stroke-linecap="butt"/>
<rect x="219.41" y="638.2" width="37.47" height="354.6" fill="url(#hatch)" stroke="#000" stroke-width="2.4"/>
<rect x="217.21" y="663.4" width="41.87" height="6.4" fill="#fff"/>
<rect x="267.45" y="797.2" width="37.47" height="195.6" fill="url(#hatch)" stroke="#000" stroke-width="2.4"/>
<line x1="286.19" y1="785" x2="286.19" y2="808.6" stroke="#000" stroke-width="2" stroke-linecap="butt"/>
<line x1="282.59" y1="785" x2="289.79" y2="785" stroke="#000" stroke-width="2.2" stroke-linecap="butt"/>
<line x1="282.59" y1="808.6" x2="289.79" y2="808.6" stroke="#000" stroke-width="2.2" stroke-linecap="butt"/>
<rect x="315.49" y="799.4" width="37.47" height="193.4" fill="url(#hatch)" stroke="#000" stroke-width="2.4"/>
<line x1="334.23" y1="788.8" x2="334.23" y2="810.4" stroke="#000" stroke-width="2" stroke-linecap="butt"/>
<line x1="330.63" y1="788.8" x2="337.83" y2="788.8" stroke="#000" stroke-width="2.2" stroke-linecap="butt"/>
<line x1="330.63" y1="810.4" x2="337.83" y2="810.4" stroke="#000" stroke-width="2.2" stroke-linecap="butt"/>
<rect x="363.53" y="827" width="37.47" height="165.8" fill="url(#hatch)" stroke="#000" stroke-width="2.4"/>
<line x1="382.27" y1="818.6" x2="382.27" y2="835.2" stroke="#000" stroke-width="2" stroke-linecap="butt"/>
<line x1="378.67" y1="818.6" x2="385.87" y2="818.6" stroke="#000" stroke-width="2.2" stroke-linecap="butt"/>
<line x1="378.67" y1="835.2" x2="385.87" y2="835.2" stroke="#000" stroke-width="2.2" stroke-linecap="butt"/>
<rect x="411.58" y="865.8" width="37.47" height="127" fill="url(#hatch)" stroke="#000" stroke-width="2.4"/>
<line x1="430.31" y1="862.1" x2="430.31" y2="869.8" stroke="#000" stroke-width="2" stroke-linecap="butt"/>
<line x1="426.71" y1="862.1" x2="433.91" y2="862.1" stroke="#000" stroke-width="2.2" stroke-linecap="butt"/>
<line x1="426.71" y1="869.8" x2="433.91" y2="869.8" stroke="#000" stroke-width="2.2" stroke-linecap="butt"/>
<rect x="459.62" y="848.8" width="37.47" height="144" fill="url(#hatch)" stroke="#000" stroke-width="2.4"/>
<line x1="478.35" y1="842.2" x2="478.35" y2="855" stroke="#000" stroke-width="2" stroke-linecap="butt"/>
<line x1="474.75" y1="842.2" x2="481.95" y2="842.2" stroke="#000" stroke-width="2.2" stroke-linecap="butt"/>
<line x1="474.75" y1="855" x2="481.95" y2="855" stroke="#000" stroke-width="2.2" stroke-linecap="butt"/>
<rect x="507.66" y="861" width="37.47" height="131.8" fill="url(#hatch)" stroke="#000" stroke-width="2.4"/>
<line x1="526.4" y1="849.3" x2="526.4" y2="872.5" stroke="#000" stroke-width="2" stroke-linecap="butt"/>
<line x1="522.8" y1="849.3" x2="530" y2="849.3" stroke="#000" stroke-width="2.2" stroke-linecap="butt"/>
<line x1="522.8" y1="872.5" x2="530" y2="872.5" stroke="#000" stroke-width="2.2" stroke-linecap="butt"/>
<rect x="555.7" y="753.9" width="37.47" height="238.9" fill="url(#hatch)" stroke="#000" stroke-width="2.4"/>
<line x1="574.44" y1="743.6" x2="574.44" y2="765.6" stroke="#000" stroke-width="2" stroke-linecap="butt"/>
<line x1="570.84" y1="743.6" x2="578.04" y2="743.6" stroke="#000" stroke-width="2.2" stroke-linecap="butt"/>
<line x1="570.84" y1="765.6" x2="578.04" y2="765.6" stroke="#000" stroke-width="2.2" stroke-linecap="butt"/>
<rect x="603.74" y="815" width="37.47" height="177.8" fill="url(#hatch)" stroke="#000" stroke-width="2.4"/>
<polyline fill="none" stroke="#0000dc" stroke-width="2.2" stroke-linejoin="round" points="70,885.9 94.02,896.5 142.06,893.9 190.1,863.5 238.15,810.1 286.19,748 334.23,696 382.27,667.8 430.31,669.1 478.35,700.5 526.4,749.1 574.44,798.1 622.48,841.8 646.5,857.7"/>
<rect x="91.52" y="894" width="5" height="5" fill="#0000dc"/>
<rect x="139.56" y="891.4" width="5" height="5" fill="#0000dc"/>
<rect x="187.6" y="861" width="5" height="5" fill="#0000dc"/>
<rect x="235.65" y="807.6" width="5" height="5" fill="#0000dc"/>
<rect x="283.69" y="745.5" width="5" height="5" fill="#0000dc"/>
<rect x="331.73" y="693.5" width="5" height="5" fill="#0000dc"/>
<rect x="379.77" y="665.3" width="5" height="5" fill="#0000dc"/>
<rect x="427.81" y="666.6" width="5" height="5" fill="#0000dc"/>
<rect x="475.85" y="698" width="5" height="5" fill="#0000dc"/>
<rect x="523.9" y="746.6" width="5" height="5" fill="#0000dc"/>
<rect x="571.94" y="795.6" width="5" height="5" fill="#0000dc"/>
<rect x="619.98" y="839.3" width="5" height="5" fill="#0000dc"/>
<text x="95.2" y="827.6" font-size="28.5" text-anchor="middle" fill="#000" style="font-style:italic;" >cd</text>
<text x="142.8" y="830" font-size="28.5" text-anchor="middle" fill="#000" style="font-style:italic;" >cd</text>
<text x="192.4" y="821" font-size="28.5" text-anchor="middle" fill="#000" style="font-style:italic;" >cd</text>
<text x="236.4" y="626.6" font-size="28.5" text-anchor="middle" fill="#000" style="font-style:italic;" >a</text>
<text x="291.6" y="776" font-size="28.5" text-anchor="middle" fill="#000" style="font-style:italic;" >bc</text>
<text x="339" y="780" font-size="28.5" text-anchor="middle" fill="#000" style="font-style:italic;" >bc</text>
<text x="389.2" y="801.8" font-size="28.5" text-anchor="middle" fill="#000" style="font-style:italic;" >cd</text>
<text x="431.6" y="839.6" font-size="28.5" text-anchor="middle" fill="#000" style="font-style:italic;" >d</text>
<text x="478.6" y="830.7" font-size="28.5" text-anchor="middle" fill="#000" style="font-style:italic;" >d</text>
<text x="525.4" y="833" font-size="28.5" text-anchor="middle" fill="#000" style="font-style:italic;" >d</text>
<text x="574" y="719.7" font-size="28.5" text-anchor="middle" fill="#000" style="font-style:italic;" >b</text>
<text x="621.4" y="800.3" font-size="28.5" text-anchor="middle" fill="#000" style="font-style:italic;" >bc</text>
<line x1="69" y1="992.8" x2="647.5" y2="992.8" stroke="#000" stroke-width="1.8" stroke-linecap="butt"/>
<line x1="94.02" y1="992.8" x2="94.02" y2="997.8" stroke="#000" stroke-width="1.6" stroke-linecap="butt"/>
<text x="94.02" y="1019.7" font-size="22" text-anchor="middle" fill="#000" style="" >8</text>
<line x1="142.06" y1="992.8" x2="142.06" y2="997.8" stroke="#000" stroke-width="1.6" stroke-linecap="butt"/>
<text x="142.06" y="1019.7" font-size="22" text-anchor="middle" fill="#000" style="" >9</text>
<line x1="190.1" y1="992.8" x2="190.1" y2="997.8" stroke="#000" stroke-width="1.6" stroke-linecap="butt"/>
<text x="190.1" y="1019.7" font-size="22" text-anchor="middle" fill="#000" style="" >10</text>
<line x1="238.15" y1="992.8" x2="238.15" y2="997.8" stroke="#000" stroke-width="1.6" stroke-linecap="butt"/>
<text x="238.15" y="1019.7" font-size="22" text-anchor="middle" fill="#000" style="" >11</text>
<line x1="286.19" y1="992.8" x2="286.19" y2="997.8" stroke="#000" stroke-width="1.6" stroke-linecap="butt"/>
<text x="286.19" y="1019.7" font-size="22" text-anchor="middle" fill="#000" style="" >12</text>
<line x1="334.23" y1="992.8" x2="334.23" y2="997.8" stroke="#000" stroke-width="1.6" stroke-linecap="butt"/>
<text x="334.23" y="1019.7" font-size="22" text-anchor="middle" fill="#000" style="" >13</text>
<line x1="382.27" y1="992.8" x2="382.27" y2="997.8" stroke="#000" stroke-width="1.6" stroke-linecap="butt"/>
<text x="382.27" y="1019.7" font-size="22" text-anchor="middle" fill="#000" style="" >14</text>
<line x1="430.31" y1="992.8" x2="430.31" y2="997.8" stroke="#000" stroke-width="1.6" stroke-linecap="butt"/>
<text x="430.31" y="1019.7" font-size="22" text-anchor="middle" fill="#000" style="" >15</text>
<line x1="478.35" y1="992.8" x2="478.35" y2="997.8" stroke="#000" stroke-width="1.6" stroke-linecap="butt"/>
<text x="478.35" y="1019.7" font-size="22" text-anchor="middle" fill="#000" style="" >16</text>
<line x1="526.4" y1="992.8" x2="526.4" y2="997.8" stroke="#000" stroke-width="1.6" stroke-linecap="butt"/>
<text x="526.4" y="1019.7" font-size="22" text-anchor="middle" fill="#000" style="" >17</text>
<line x1="574.44" y1="992.8" x2="574.44" y2="997.8" stroke="#000" stroke-width="1.6" stroke-linecap="butt"/>
<text x="574.44" y="1019.7" font-size="22" text-anchor="middle" fill="#000" style="" >18</text>
<line x1="622.48" y1="992.8" x2="622.48" y2="997.8" stroke="#000" stroke-width="1.6" stroke-linecap="butt"/>
<text x="622.48" y="1019.7" font-size="22" text-anchor="middle" fill="#000" style="" >19</text>
<line x1="70" y1="992.8" x2="70" y2="995.8" stroke="#000" stroke-width="1.3" stroke-linecap="butt"/>
<line x1="118.04" y1="992.8" x2="118.04" y2="995.8" stroke="#000" stroke-width="1.3" stroke-linecap="butt"/>
<line x1="166.08" y1="992.8" x2="166.08" y2="995.8" stroke="#000" stroke-width="1.3" stroke-linecap="butt"/>
<line x1="214.12" y1="992.8" x2="214.12" y2="995.8" stroke="#000" stroke-width="1.3" stroke-linecap="butt"/>
<line x1="262.17" y1="992.8" x2="262.17" y2="995.8" stroke="#000" stroke-width="1.3" stroke-linecap="butt"/>
<line x1="310.21" y1="992.8" x2="310.21" y2="995.8" stroke="#000" stroke-width="1.3" stroke-linecap="butt"/>
<line x1="358.25" y1="992.8" x2="358.25" y2="995.8" stroke="#000" stroke-width="1.3" stroke-linecap="butt"/>
<line x1="406.29" y1="992.8" x2="406.29" y2="995.8" stroke="#000" stroke-width="1.3" stroke-linecap="butt"/>
<line x1="454.33" y1="992.8" x2="454.33" y2="995.8" stroke="#000" stroke-width="1.3" stroke-linecap="butt"/>
<line x1="502.38" y1="992.8" x2="502.38" y2="995.8" stroke="#000" stroke-width="1.3" stroke-linecap="butt"/>
<line x1="550.42" y1="992.8" x2="550.42" y2="995.8" stroke="#000" stroke-width="1.3" stroke-linecap="butt"/>
<line x1="598.46" y1="992.8" x2="598.46" y2="995.8" stroke="#000" stroke-width="1.3" stroke-linecap="butt"/>
<line x1="646.5" y1="992.8" x2="646.5" y2="995.8" stroke="#000" stroke-width="1.3" stroke-linecap="butt"/>
<line x1="646.5" y1="630.6" x2="646.5" y2="993.8" stroke="#0000dc" stroke-width="1.8" stroke-linecap="butt"/>
<line x1="646.5" y1="992.8" x2="652" y2="992.8" stroke="#0000dc" stroke-width="1.8" stroke-linecap="butt"/>
<text x="654.5" y="999.8" font-size="22" text-anchor="start" fill="#0000dc" style="" >0</text>
<line x1="646.5" y1="952.56" x2="650" y2="952.56" stroke="#0000dc" stroke-width="1.8" stroke-linecap="butt"/>
<line x1="646.5" y1="912.31" x2="652" y2="912.31" stroke="#0000dc" stroke-width="1.8" stroke-linecap="butt"/>
<text x="654.5" y="919.31" font-size="22" text-anchor="start" fill="#0000dc" style="" >100</text>
<line x1="646.5" y1="872.07" x2="650" y2="872.07" stroke="#0000dc" stroke-width="1.8" stroke-linecap="butt"/>
<line x1="646.5" y1="831.82" x2="652" y2="831.82" stroke="#0000dc" stroke-width="1.8" stroke-linecap="butt"/>
<text x="654.5" y="838.82" font-size="22" text-anchor="start" fill="#0000dc" style="" >200</text>
<line x1="646.5" y1="791.58" x2="650" y2="791.58" stroke="#0000dc" stroke-width="1.8" stroke-linecap="butt"/>
<line x1="646.5" y1="751.33" x2="652" y2="751.33" stroke="#0000dc" stroke-width="1.8" stroke-linecap="butt"/>
<text x="654.5" y="758.33" font-size="22" text-anchor="start" fill="#0000dc" style="" >300</text>
<line x1="646.5" y1="711.09" x2="650" y2="711.09" stroke="#0000dc" stroke-width="1.8" stroke-linecap="butt"/>
<line x1="646.5" y1="670.84" x2="652" y2="670.84" stroke="#0000dc" stroke-width="1.8" stroke-linecap="butt"/>
<text x="654.5" y="677.84" font-size="22" text-anchor="start" fill="#0000dc" style="" >400</text>
<line x1="646.5" y1="630.6" x2="650" y2="630.6" stroke="#0000dc" stroke-width="1.8" stroke-linecap="butt"/>
<line x1="70" y1="993.8" x2="70" y2="669.3" stroke="#000" stroke-width="1.7" stroke-linecap="butt"/>
<line x1="70" y1="661.8" x2="70" y2="629.6" stroke="#000" stroke-width="1.7" stroke-linecap="butt"/>
<line x1="64.7" y1="666.6" x2="75.3" y2="661" stroke="#000" stroke-width="1.9" stroke-linecap="butt"/>
<line x1="64.7" y1="672.6" x2="75.3" y2="667" stroke="#000" stroke-width="1.9" stroke-linecap="butt"/>
<line x1="70" y1="992.8" x2="64.5" y2="992.8" stroke="#000" stroke-width="1.8" stroke-linecap="butt"/>
<text x="60" y="999.8" font-size="22" text-anchor="end" fill="#000" style="" >0</text>
<line x1="70" y1="953.5" x2="67" y2="953.5" stroke="#000" stroke-width="1.8" stroke-linecap="butt"/>
<line x1="70" y1="914.2" x2="64.5" y2="914.2" stroke="#000" stroke-width="1.8" stroke-linecap="butt"/>
<text x="60" y="921.2" font-size="22" text-anchor="end" fill="#000" style="" >2</text>
<line x1="70" y1="874.9" x2="67" y2="874.9" stroke="#000" stroke-width="1.8" stroke-linecap="butt"/>
<line x1="70" y1="835.6" x2="64.5" y2="835.6" stroke="#000" stroke-width="1.8" stroke-linecap="butt"/>
<text x="60" y="842.6" font-size="22" text-anchor="end" fill="#000" style="" >4</text>
<line x1="70" y1="796.3" x2="67" y2="796.3" stroke="#000" stroke-width="1.8" stroke-linecap="butt"/>
<line x1="70" y1="757" x2="64.5" y2="757" stroke="#000" stroke-width="1.8" stroke-linecap="butt"/>
<text x="60" y="764" font-size="22" text-anchor="end" fill="#000" style="" >6</text>
<line x1="70" y1="717.7" x2="67" y2="717.7" stroke="#000" stroke-width="1.8" stroke-linecap="butt"/>
<line x1="70" y1="678.4" x2="64.5" y2="678.4" stroke="#000" stroke-width="1.8" stroke-linecap="butt"/>
<text x="60" y="685.4" font-size="22" text-anchor="end" fill="#000" style="" >8</text>
<line x1="70" y1="648.5" x2="67" y2="648.5" stroke="#000" stroke-width="1.8" stroke-linecap="butt"/>
<line x1="70" y1="630.6" x2="64.5" y2="630.6" stroke="#000" stroke-width="1.8" stroke-linecap="butt"/>
<text x="60" y="637.6" font-size="22" text-anchor="end" fill="#000" style="" >20</text>
<text transform="translate(23.5,808.3) rotate(-90)" font-size="29.6" text-anchor="middle">POC (mg/L)</text>
<text transform="translate(726.2,811) rotate(-90)" font-size="29.4" text-anchor="middle">Tidal Height (cm)</text>
<text x="357.4" y="1068.6" font-size="35.4" text-anchor="middle" fill="#000" style="" >Oct. 2017</text>
<rect x="787.96" y="848.6" width="34.35" height="144.5" fill="url(#cross)" stroke="#000" stroke-width="2.4"/>
<line x1="805.14" y1="845.9" x2="805.14" y2="851.7" stroke="#000" stroke-width="2" stroke-linecap="butt"/>
<line x1="801.54" y1="845.9" x2="808.74" y2="845.9" stroke="#000" stroke-width="2.2" stroke-linecap="butt"/>
<line x1="801.54" y1="851.7" x2="808.74" y2="851.7" stroke="#000" stroke-width="2.2" stroke-linecap="butt"/>
<rect x="832.24" y="857.3" width="34.35" height="135.8" fill="url(#cross)" stroke="#000" stroke-width="2.4"/>
<line x1="849.42" y1="855.2" x2="849.42" y2="861.4" stroke="#000" stroke-width="2" stroke-linecap="butt"/>
<line x1="845.82" y1="855.2" x2="853.02" y2="855.2" stroke="#000" stroke-width="2.2" stroke-linecap="butt"/>
<line x1="845.82" y1="861.4" x2="853.02" y2="861.4" stroke="#000" stroke-width="2.2" stroke-linecap="butt"/>
<rect x="876.52" y="843.8" width="34.35" height="149.3" fill="url(#cross)" stroke="#000" stroke-width="2.4"/>
<line x1="893.69" y1="830.8" x2="893.69" y2="857.7" stroke="#000" stroke-width="2" stroke-linecap="butt"/>
<line x1="890.09" y1="830.8" x2="897.29" y2="830.8" stroke="#000" stroke-width="2.2" stroke-linecap="butt"/>
<line x1="890.09" y1="857.7" x2="897.29" y2="857.7" stroke="#000" stroke-width="2.2" stroke-linecap="butt"/>
<rect x="920.79" y="777.2" width="34.35" height="215.9" fill="url(#cross)" stroke="#000" stroke-width="2.4"/>
<line x1="937.97" y1="773" x2="937.97" y2="781.7" stroke="#000" stroke-width="2" stroke-linecap="butt"/>
<line x1="934.37" y1="773" x2="941.57" y2="773" stroke="#000" stroke-width="2.2" stroke-linecap="butt"/>
<line x1="934.37" y1="781.7" x2="941.57" y2="781.7" stroke="#000" stroke-width="2.2" stroke-linecap="butt"/>
<rect x="965.07" y="878.6" width="34.35" height="114.5" fill="url(#cross)" stroke="#000" stroke-width="2.4"/>
<line x1="982.25" y1="872.1" x2="982.25" y2="884.1" stroke="#000" stroke-width="2" stroke-linecap="butt"/>
<line x1="978.65" y1="872.1" x2="985.85" y2="872.1" stroke="#000" stroke-width="2.2" stroke-linecap="butt"/>
<line x1="978.65" y1="884.1" x2="985.85" y2="884.1" stroke="#000" stroke-width="2.2" stroke-linecap="butt"/>
<rect x="1009.35" y="886.8" width="34.35" height="106.3" fill="url(#cross)" stroke="#000" stroke-width="2.4"/>
<line x1="1026.52" y1="885.2" x2="1026.52" y2="888.9" stroke="#000" stroke-width="2" stroke-linecap="butt"/>
<line x1="1022.92" y1="885.2" x2="1030.12" y2="885.2" stroke="#000" stroke-width="2.2" stroke-linecap="butt"/>
<line x1="1022.92" y1="888.9" x2="1030.12" y2="888.9" stroke="#000" stroke-width="2.2" stroke-linecap="butt"/>
<rect x="1053.63" y="876.4" width="34.35" height="116.7" fill="url(#cross)" stroke="#000" stroke-width="2.4"/>
<line x1="1070.8" y1="868.2" x2="1070.8" y2="883.4" stroke="#000" stroke-width="2" stroke-linecap="butt"/>
<line x1="1067.2" y1="868.2" x2="1074.4" y2="868.2" stroke="#000" stroke-width="2.2" stroke-linecap="butt"/>
<line x1="1067.2" y1="883.4" x2="1074.4" y2="883.4" stroke="#000" stroke-width="2.2" stroke-linecap="butt"/>
<rect x="1097.9" y="872.2" width="34.35" height="120.9" fill="url(#cross)" stroke="#000" stroke-width="2.4"/>
<line x1="1115.08" y1="859" x2="1115.08" y2="886.3" stroke="#000" stroke-width="2" stroke-linecap="butt"/>
<line x1="1111.48" y1="859" x2="1118.68" y2="859" stroke="#000" stroke-width="2.2" stroke-linecap="butt"/>
<line x1="1111.48" y1="886.3" x2="1118.68" y2="886.3" stroke="#000" stroke-width="2.2" stroke-linecap="butt"/>
<rect x="1142.18" y="891.6" width="34.35" height="101.5" fill="url(#cross)" stroke="#000" stroke-width="2.4"/>
<line x1="1159.35" y1="887" x2="1159.35" y2="895.5" stroke="#000" stroke-width="2" stroke-linecap="butt"/>
<line x1="1155.75" y1="887" x2="1162.95" y2="887" stroke="#000" stroke-width="2.2" stroke-linecap="butt"/>
<line x1="1155.75" y1="895.5" x2="1162.95" y2="895.5" stroke="#000" stroke-width="2.2" stroke-linecap="butt"/>
<rect x="1186.46" y="859.3" width="34.35" height="133.8" fill="url(#cross)" stroke="#000" stroke-width="2.4"/>
<line x1="1203.63" y1="854" x2="1203.63" y2="864.3" stroke="#000" stroke-width="2" stroke-linecap="butt"/>
<line x1="1200.03" y1="854" x2="1207.23" y2="854" stroke="#000" stroke-width="2.2" stroke-linecap="butt"/>
<line x1="1200.03" y1="864.3" x2="1207.23" y2="864.3" stroke="#000" stroke-width="2.2" stroke-linecap="butt"/>
<rect x="1230.73" y="849.5" width="34.35" height="143.6" fill="url(#cross)" stroke="#000" stroke-width="2.4"/>
<line x1="1247.91" y1="841.1" x2="1247.91" y2="857.4" stroke="#000" stroke-width="2" stroke-linecap="butt"/>
<line x1="1244.31" y1="841.1" x2="1251.51" y2="841.1" stroke="#000" stroke-width="2.2" stroke-linecap="butt"/>
<line x1="1244.31" y1="857.4" x2="1251.51" y2="857.4" stroke="#000" stroke-width="2.2" stroke-linecap="butt"/>
<rect x="1275.01" y="828.5" width="34.35" height="164.6" fill="url(#cross)" stroke="#000" stroke-width="2.4"/>
<line x1="1292.18" y1="813.8" x2="1292.18" y2="842.7" stroke="#000" stroke-width="2" stroke-linecap="butt"/>
<line x1="1288.58" y1="813.8" x2="1295.78" y2="813.8" stroke="#000" stroke-width="2.2" stroke-linecap="butt"/>
<line x1="1288.58" y1="842.7" x2="1295.78" y2="842.7" stroke="#000" stroke-width="2.2" stroke-linecap="butt"/>
<rect x="1319.29" y="828.5" width="34.35" height="164.6" fill="url(#cross)" stroke="#000" stroke-width="2.4"/>
<line x1="1336.46" y1="827.4" x2="1336.46" y2="830.1" stroke="#000" stroke-width="2" stroke-linecap="butt"/>
<line x1="1332.86" y1="827.4" x2="1340.06" y2="827.4" stroke="#000" stroke-width="2.2" stroke-linecap="butt"/>
<line x1="1332.86" y1="830.1" x2="1340.06" y2="830.1" stroke="#000" stroke-width="2.2" stroke-linecap="butt"/>
<polyline fill="none" stroke="#0000dc" stroke-width="2.2" stroke-linejoin="round" points="783,885.9 805.14,896.5 849.42,893.9 893.69,863.6 937.97,810 982.25,748 1026.52,696 1070.8,667.8 1115.08,669.1 1159.35,700.5 1203.63,749 1247.91,798 1292.18,841.8 1336.46,874.5 1358.6,882"/>
<rect x="802.64" y="894" width="5" height="5" fill="#0000dc"/>
<rect x="846.92" y="891.4" width="5" height="5" fill="#0000dc"/>
<rect x="891.19" y="861.1" width="5" height="5" fill="#0000dc"/>
<rect x="935.47" y="807.5" width="5" height="5" fill="#0000dc"/>
<rect x="979.75" y="745.5" width="5" height="5" fill="#0000dc"/>
<rect x="1024.02" y="693.5" width="5" height="5" fill="#0000dc"/>
<rect x="1068.3" y="665.3" width="5" height="5" fill="#0000dc"/>
<rect x="1112.58" y="666.6" width="5" height="5" fill="#0000dc"/>
<rect x="1156.85" y="698" width="5" height="5" fill="#0000dc"/>
<rect x="1201.13" y="746.5" width="5" height="5" fill="#0000dc"/>
<rect x="1245.41" y="795.5" width="5" height="5" fill="#0000dc"/>
<rect x="1289.68" y="839.3" width="5" height="5" fill="#0000dc"/>
<rect x="1333.96" y="872" width="5" height="5" fill="#0000dc"/>
<text x="806" y="821" font-size="20" text-anchor="middle" fill="#000" style="font-style:italic;" >BCD</text>
<text x="849.5" y="838" font-size="20" text-anchor="middle" fill="#000" style="font-style:italic;" >BCD</text>
<text x="890.2" y="813.2" font-size="20" text-anchor="middle" fill="#000" style="font-style:italic;" >BC</text>
<text x="935.4" y="754.8" font-size="20" text-anchor="middle" fill="#000" style="font-style:italic;" >A</text>
<text x="980.3" y="851" font-size="20" text-anchor="middle" fill="#000" style="font-style:italic;" >CD</text>
<text x="1029.1" y="861.4" font-size="20" text-anchor="middle" fill="#000" style="font-style:italic;" >CD</text>
<text x="1076" y="850.6" font-size="20" text-anchor="middle" fill="#000" style="font-style:italic;" >CD</text>
<text x="1129.4" y="841.1" font-size="20" text-anchor="middle" fill="#000" style="font-style:italic;" >BCD</text>
<text x="1160.6" y="868.4" font-size="20" text-anchor="middle" fill="#000" style="font-style:italic;" >D</text>
<text x="1201.6" y="837.6" font-size="20" text-anchor="middle" fill="#000" style="font-style:italic;" >BCD</text>
<text x="1247.1" y="825.6" font-size="20" text-anchor="middle" fill="#000" style="font-style:italic;" >BCD</text>
<text x="1290.3" y="796" font-size="20" text-anchor="middle" fill="#000" style="font-style:italic;" >B</text>
<text x="1338.1" y="811.9" font-size="20" text-anchor="middle" fill="#000" style="font-style:italic;" >B</text>
<line x1="782" y1="993.1" x2="1359.6" y2="993.1" stroke="#000" stroke-width="1.8" stroke-linecap="butt"/>
<line x1="805.14" y1="993.1" x2="805.14" y2="998.1" stroke="#000" stroke-width="1.6" stroke-linecap="butt"/>
<text x="805.14" y="1019.7" font-size="22" text-anchor="middle" fill="#000" style="" >8</text>
<line x1="849.42" y1="993.1" x2="849.42" y2="998.1" stroke="#000" stroke-width="1.6" stroke-linecap="butt"/>
<text x="849.42" y="1019.7" font-size="22" text-anchor="middle" fill="#000" style="" >9</text>
<line x1="893.69" y1="993.1" x2="893.69" y2="998.1" stroke="#000" stroke-width="1.6" stroke-linecap="butt"/>
<text x="893.69" y="1019.7" font-size="22" text-anchor="middle" fill="#000" style="" >10</text>
<line x1="937.97" y1="993.1" x2="937.97" y2="998.1" stroke="#000" stroke-width="1.6" stroke-linecap="butt"/>
<text x="937.97" y="1019.7" font-size="22" text-anchor="middle" fill="#000" style="" >11</text>
<line x1="982.25" y1="993.1" x2="982.25" y2="998.1" stroke="#000" stroke-width="1.6" stroke-linecap="butt"/>
<text x="982.25" y="1019.7" font-size="22" text-anchor="middle" fill="#000" style="" >12</text>
<line x1="1026.52" y1="993.1" x2="1026.52" y2="998.1" stroke="#000" stroke-width="1.6" stroke-linecap="butt"/>
<text x="1026.52" y="1019.7" font-size="22" text-anchor="middle" fill="#000" style="" >13</text>
<line x1="1070.8" y1="993.1" x2="1070.8" y2="998.1" stroke="#000" stroke-width="1.6" stroke-linecap="butt"/>
<text x="1070.8" y="1019.7" font-size="22" text-anchor="middle" fill="#000" style="" >14</text>
<line x1="1115.08" y1="993.1" x2="1115.08" y2="998.1" stroke="#000" stroke-width="1.6" stroke-linecap="butt"/>
<text x="1115.08" y="1019.7" font-size="22" text-anchor="middle" fill="#000" style="" >15</text>
<line x1="1159.35" y1="993.1" x2="1159.35" y2="998.1" stroke="#000" stroke-width="1.6" stroke-linecap="butt"/>
<text x="1159.35" y="1019.7" font-size="22" text-anchor="middle" fill="#000" style="" >16</text>
<line x1="1203.63" y1="993.1" x2="1203.63" y2="998.1" stroke="#000" stroke-width="1.6" stroke-linecap="butt"/>
<text x="1203.63" y="1019.7" font-size="22" text-anchor="middle" fill="#000" style="" >17</text>
<line x1="1247.91" y1="993.1" x2="1247.91" y2="998.1" stroke="#000" stroke-width="1.6" stroke-linecap="butt"/>
<text x="1247.91" y="1019.7" font-size="22" text-anchor="middle" fill="#000" style="" >18</text>
<line x1="1292.18" y1="993.1" x2="1292.18" y2="998.1" stroke="#000" stroke-width="1.6" stroke-linecap="butt"/>
<text x="1292.18" y="1019.7" font-size="22" text-anchor="middle" fill="#000" style="" >19</text>
<line x1="1336.46" y1="993.1" x2="1336.46" y2="998.1" stroke="#000" stroke-width="1.6" stroke-linecap="butt"/>
<text x="1336.46" y="1019.7" font-size="22" text-anchor="middle" fill="#000" style="" >20</text>
<line x1="783" y1="993.1" x2="783" y2="996.1" stroke="#000" stroke-width="1.3" stroke-linecap="butt"/>
<line x1="827.28" y1="993.1" x2="827.28" y2="996.1" stroke="#000" stroke-width="1.3" stroke-linecap="butt"/>
<line x1="871.55" y1="993.1" x2="871.55" y2="996.1" stroke="#000" stroke-width="1.3" stroke-linecap="butt"/>
<line x1="915.83" y1="993.1" x2="915.83" y2="996.1" stroke="#000" stroke-width="1.3" stroke-linecap="butt"/>
<line x1="960.11" y1="993.1" x2="960.11" y2="996.1" stroke="#000" stroke-width="1.3" stroke-linecap="butt"/>
<line x1="1004.38" y1="993.1" x2="1004.38" y2="996.1" stroke="#000" stroke-width="1.3" stroke-linecap="butt"/>
<line x1="1048.66" y1="993.1" x2="1048.66" y2="996.1" stroke="#000" stroke-width="1.3" stroke-linecap="butt"/>
<line x1="1092.94" y1="993.1" x2="1092.94" y2="996.1" stroke="#000" stroke-width="1.3" stroke-linecap="butt"/>
<line x1="1137.22" y1="993.1" x2="1137.22" y2="996.1" stroke="#000" stroke-width="1.3" stroke-linecap="butt"/>
<line x1="1181.49" y1="993.1" x2="1181.49" y2="996.1" stroke="#000" stroke-width="1.3" stroke-linecap="butt"/>
<line x1="1225.77" y1="993.1" x2="1225.77" y2="996.1" stroke="#000" stroke-width="1.3" stroke-linecap="butt"/>
<line x1="1270.05" y1="993.1" x2="1270.05" y2="996.1" stroke="#000" stroke-width="1.3" stroke-linecap="butt"/>
<line x1="1314.32" y1="993.1" x2="1314.32" y2="996.1" stroke="#000" stroke-width="1.3" stroke-linecap="butt"/>
<line x1="1358.6" y1="993.1" x2="1358.6" y2="996.1" stroke="#000" stroke-width="1.3" stroke-linecap="butt"/>
<line x1="783" y1="630.6" x2="783" y2="994.1" stroke="#0000dc" stroke-width="1.8" stroke-linecap="butt"/>
<line x1="783" y1="993.1" x2="777.5" y2="993.1" stroke="#0000dc" stroke-width="1.8" stroke-linecap="butt"/>
<text x="773" y="1000.1" font-size="22" text-anchor="end" fill="#0000dc" style="" >0</text>
<line x1="783" y1="952.82" x2="779.5" y2="952.82" stroke="#0000dc" stroke-width="1.8" stroke-linecap="butt"/>
<line x1="783" y1="912.54" x2="777.5" y2="912.54" stroke="#0000dc" stroke-width="1.8" stroke-linecap="butt"/>
<text x="773" y="919.54" font-size="22" text-anchor="end" fill="#0000dc" style="" >100</text>
<line x1="783" y1="872.27" x2="779.5" y2="872.27" stroke="#0000dc" stroke-width="1.8" stroke-linecap="butt"/>
<line x1="783" y1="831.99" x2="777.5" y2="831.99" stroke="#0000dc" stroke-width="1.8" stroke-linecap="butt"/>
<text x="773" y="838.99" font-size="22" text-anchor="end" fill="#0000dc" style="" >200</text>
<line x1="783" y1="791.71" x2="779.5" y2="791.71" stroke="#0000dc" stroke-width="1.8" stroke-linecap="butt"/>
<line x1="783" y1="751.43" x2="777.5" y2="751.43" stroke="#0000dc" stroke-width="1.8" stroke-linecap="butt"/>
<text x="773" y="758.43" font-size="22" text-anchor="end" fill="#0000dc" style="" >300</text>
<line x1="783" y1="711.16" x2="779.5" y2="711.16" stroke="#0000dc" stroke-width="1.8" stroke-linecap="butt"/>
<line x1="783" y1="670.88" x2="777.5" y2="670.88" stroke="#0000dc" stroke-width="1.8" stroke-linecap="butt"/>
<text x="773" y="677.88" font-size="22" text-anchor="end" fill="#0000dc" style="" >400</text>
<line x1="783" y1="630.6" x2="779.5" y2="630.6" stroke="#0000dc" stroke-width="1.8" stroke-linecap="butt"/>
<line x1="1358.6" y1="994.1" x2="1358.6" y2="669.5" stroke="#000" stroke-width="1.7" stroke-linecap="butt"/>
<line x1="1358.6" y1="662" x2="1358.6" y2="629.6" stroke="#000" stroke-width="1.7" stroke-linecap="butt"/>
<line x1="1353.3" y1="666.8" x2="1363.9" y2="661.2" stroke="#000" stroke-width="1.9" stroke-linecap="butt"/>
<line x1="1353.3" y1="672.8" x2="1363.9" y2="667.2" stroke="#000" stroke-width="1.9" stroke-linecap="butt"/>
<line x1="1358.6" y1="993.1" x2="1364.1" y2="993.1" stroke="#000" stroke-width="1.8" stroke-linecap="butt"/>
<text x="1367.6" y="1000.1" font-size="22" text-anchor="start" fill="#000" style="" >0</text>
<line x1="1358.6" y1="953.7" x2="1361.6" y2="953.7" stroke="#000" stroke-width="1.8" stroke-linecap="butt"/>
<line x1="1358.6" y1="914.3" x2="1364.1" y2="914.3" stroke="#000" stroke-width="1.8" stroke-linecap="butt"/>
<text x="1367.6" y="921.3" font-size="22" text-anchor="start" fill="#000" style="" >2</text>
<line x1="1358.6" y1="874.9" x2="1361.6" y2="874.9" stroke="#000" stroke-width="1.8" stroke-linecap="butt"/>
<line x1="1358.6" y1="835.5" x2="1364.1" y2="835.5" stroke="#000" stroke-width="1.8" stroke-linecap="butt"/>
<text x="1367.6" y="842.5" font-size="22" text-anchor="start" fill="#000" style="" >4</text>
<line x1="1358.6" y1="796.1" x2="1361.6" y2="796.1" stroke="#000" stroke-width="1.8" stroke-linecap="butt"/>
<line x1="1358.6" y1="756.7" x2="1364.1" y2="756.7" stroke="#000" stroke-width="1.8" stroke-linecap="butt"/>
<text x="1367.6" y="763.7" font-size="22" text-anchor="start" fill="#000" style="" >6</text>
<line x1="1358.6" y1="717.3" x2="1361.6" y2="717.3" stroke="#000" stroke-width="1.8" stroke-linecap="butt"/>
<line x1="1358.6" y1="677.9" x2="1364.1" y2="677.9" stroke="#000" stroke-width="1.8" stroke-linecap="butt"/>
<text x="1367.6" y="684.9" font-size="22" text-anchor="start" fill="#000" style="" >8</text>
<line x1="1358.6" y1="654.7" x2="1364.1" y2="654.7" stroke="#000" stroke-width="1.8" stroke-linecap="butt"/>
<text x="1367.6" y="661.7" font-size="22" text-anchor="start" fill="#000" style="" >18</text>
<line x1="1358.6" y1="642.7" x2="1361.6" y2="642.7" stroke="#000" stroke-width="1.8" stroke-linecap="butt"/>
<line x1="1358.6" y1="630.7" x2="1364.1" y2="630.7" stroke="#000" stroke-width="1.8" stroke-linecap="butt"/>
<text x="1367.6" y="637.7" font-size="22" text-anchor="start" fill="#000" style="" >20</text>
<text transform="translate(1420.5,803.4) rotate(-90)" font-size="29.7" text-anchor="middle">DOC (mg/L)</text>
<text x="1070" y="1068.6" font-size="35.4" text-anchor="middle" fill="#000" style="" >Oct. 2017</text>
<rect x="75.28" y="1421.1" width="37.47" height="54.4" fill="url(#hatch)" stroke="#000" stroke-width="2.4"/>
<line x1="94.02" y1="1419.7" x2="94.02" y2="1422.4" stroke="#000" stroke-width="2" stroke-linecap="butt"/>
<line x1="90.42" y1="1419.7" x2="97.62" y2="1419.7" stroke="#000" stroke-width="2.2" stroke-linecap="butt"/>
<line x1="90.42" y1="1422.4" x2="97.62" y2="1422.4" stroke="#000" stroke-width="2.2" stroke-linecap="butt"/>
<rect x="123.33" y="1427.5" width="37.47" height="48" fill="url(#hatch)" stroke="#000" stroke-width="2.4"/>
<line x1="142.06" y1="1411" x2="142.06" y2="1442.9" stroke="#000" stroke-width="2" stroke-linecap="butt"/>
<line x1="138.46" y1="1411" x2="145.66" y2="1411" stroke="#000" stroke-width="2.2" stroke-linecap="butt"/>
<line x1="138.46" y1="1442.9" x2="145.66" y2="1442.9" stroke="#000" stroke-width="2.2" stroke-linecap="butt"/>
<rect x="171.37" y="1426.5" width="37.47" height="49" fill="url(#hatch)" stroke="#000" stroke-width="2.4"/>
<line x1="190.1" y1="1416.6" x2="190.1" y2="1436.8" stroke="#000" stroke-width="2" stroke-linecap="butt"/>
<line x1="186.5" y1="1416.6" x2="193.7" y2="1416.6" stroke="#000" stroke-width="2.2" stroke-linecap="butt"/>
<line x1="186.5" y1="1436.8" x2="193.7" y2="1436.8" stroke="#000" stroke-width="2.2" stroke-linecap="butt"/>
<rect x="219.41" y="1177" width="37.47" height="298.5" fill="url(#hatch)" stroke="#000" stroke-width="2.4"/>
<line x1="238.15" y1="1177" x2="238.15" y2="1206.6" stroke="#000" stroke-width="2" stroke-linecap="butt"/>
<line x1="234.55" y1="1177" x2="241.75" y2="1177" stroke="#000" stroke-width="2.2" stroke-linecap="butt"/>
<line x1="234.55" y1="1206.6" x2="241.75" y2="1206.6" stroke="#000" stroke-width="2.2" stroke-linecap="butt"/>
<rect x="267.45" y="1425.3" width="37.47" height="50.2" fill="url(#hatch)" stroke="#000" stroke-width="2.4"/>
<rect x="315.49" y="1434.6" width="37.47" height="40.9" fill="url(#hatch)" stroke="#000" stroke-width="2.4"/>
<line x1="334.23" y1="1428.6" x2="334.23" y2="1441" stroke="#000" stroke-width="2" stroke-linecap="butt"/>
<line x1="330.63" y1="1428.6" x2="337.83" y2="1428.6" stroke="#000" stroke-width="2.2" stroke-linecap="butt"/>
<line x1="330.63" y1="1441" x2="337.83" y2="1441" stroke="#000" stroke-width="2.2" stroke-linecap="butt"/>
<rect x="363.53" y="1449.4" width="37.47" height="26.1" fill="url(#hatch)" stroke="#000" stroke-width="2.4"/>
<line x1="382.27" y1="1448.5" x2="382.27" y2="1450" stroke="#000" stroke-width="2" stroke-linecap="butt"/>
<line x1="378.67" y1="1448.5" x2="385.87" y2="1448.5" stroke="#000" stroke-width="2.2" stroke-linecap="butt"/>
<line x1="378.67" y1="1450" x2="385.87" y2="1450" stroke="#000" stroke-width="2.2" stroke-linecap="butt"/>
<rect x="411.58" y="1448.5" width="37.47" height="27" fill="url(#hatch)" stroke="#000" stroke-width="2.4"/>
<line x1="430.31" y1="1440.1" x2="430.31" y2="1456.6" stroke="#000" stroke-width="2" stroke-linecap="butt"/>
<line x1="426.71" y1="1440.1" x2="433.91" y2="1440.1" stroke="#000" stroke-width="2.2" stroke-linecap="butt"/>
<line x1="426.71" y1="1456.6" x2="433.91" y2="1456.6" stroke="#000" stroke-width="2.2" stroke-linecap="butt"/>
<rect x="459.62" y="1437.9" width="37.47" height="37.6" fill="url(#hatch)" stroke="#000" stroke-width="2.4"/>
<line x1="478.35" y1="1436.8" x2="478.35" y2="1439.4" stroke="#000" stroke-width="2" stroke-linecap="butt"/>
<line x1="474.75" y1="1436.8" x2="481.95" y2="1436.8" stroke="#000" stroke-width="2.2" stroke-linecap="butt"/>
<line x1="474.75" y1="1439.4" x2="481.95" y2="1439.4" stroke="#000" stroke-width="2.2" stroke-linecap="butt"/>
<rect x="507.66" y="1394.8" width="37.47" height="80.7" fill="url(#hatch)" stroke="#000" stroke-width="2.4"/>
<line x1="526.4" y1="1365.7" x2="526.4" y2="1424.2" stroke="#000" stroke-width="2" stroke-linecap="butt"/>
<line x1="522.8" y1="1365.7" x2="530" y2="1365.7" stroke="#000" stroke-width="2.2" stroke-linecap="butt"/>
<line x1="522.8" y1="1424.2" x2="530" y2="1424.2" stroke="#000" stroke-width="2.2" stroke-linecap="butt"/>
<rect x="555.7" y="1319.8" width="37.47" height="155.7" fill="url(#hatch)" stroke="#000" stroke-width="2.4"/>
<rect x="603.74" y="1252.5" width="37.47" height="223" fill="url(#hatch)" stroke="#000" stroke-width="2.4"/>
<line x1="622.48" y1="1215" x2="622.48" y2="1289.3" stroke="#000" stroke-width="2" stroke-linecap="butt"/>
<line x1="618.88" y1="1215" x2="626.08" y2="1215" stroke="#000" stroke-width="2.2" stroke-linecap="butt"/>
<line x1="618.88" y1="1289.3" x2="626.08" y2="1289.3" stroke="#000" stroke-width="2.2" stroke-linecap="butt"/>
<polyline fill="none" stroke="#0000dc" stroke-width="2.2" stroke-linejoin="round" points="70,1353.5 94.02,1369.4 142.06,1387.2 190.1,1382.4 238.15,1350 286.19,1295.5 334.23,1234.1 382.27,1184.7 430.31,1161.3 478.35,1168 526.4,1202.4 574.44,1253.2 622.48,1303.7 646.5,1324.2"/>
<rect x="91.52" y="1366.9" width="5" height="5" fill="#0000dc"/>
<rect x="139.56" y="1384.7" width="5" height="5" fill="#0000dc"/>
<rect x="187.6" y="1379.9" width="5" height="5" fill="#0000dc"/>
<rect x="235.65" y="1347.5" width="5" height="5" fill="#0000dc"/>
<rect x="283.69" y="1293" width="5" height="5" fill="#0000dc"/>
<rect x="331.73" y="1231.6" width="5" height="5" fill="#0000dc"/>
<rect x="379.77" y="1182.2" width="5" height="5" fill="#0000dc"/>
<rect x="427.81" y="1158.8" width="5" height="5" fill="#0000dc"/>
<rect x="475.85" y="1165.5" width="5" height="5" fill="#0000dc"/>
<rect x="523.9" y="1199.9" width="5" height="5" fill="#0000dc"/>
<rect x="571.94" y="1250.7" width="5" height="5" fill="#0000dc"/>
<rect x="619.98" y="1301.2" width="5" height="5" fill="#0000dc"/>
<text x="97.2" y="1407.3" font-size="28" text-anchor="middle" fill="#000" style="font-style:italic;" >c</text>
<text x="142.8" y="1404.2" font-size="28" text-anchor="middle" fill="#000" style="font-style:italic;" >c</text>
<text x="189.3" y="1409.3" font-size="28" text-anchor="middle" fill="#000" style="font-style:italic;" >c</text>
<text x="241.5" y="1156" font-size="28" text-anchor="middle" fill="#000" style="font-style:italic;" >a</text>
<text x="285.5" y="1413.5" font-size="28" text-anchor="middle" fill="#000" style="font-style:italic;" >c</text>
<text x="333.1" y="1417.6" font-size="28" text-anchor="middle" fill="#000" style="font-style:italic;" >c</text>
<text x="380.8" y="1437.9" font-size="28" text-anchor="middle" fill="#000" style="font-style:italic;" >c</text>
<text x="429.4" y="1425.7" font-size="28" text-anchor="middle" fill="#000" style="font-style:italic;" >c</text>
<text x="476.8" y="1407" font-size="28" text-anchor="middle" fill="#000" style="font-style:italic;" >c</text>
<text x="527.6" y="1355.6" font-size="28" text-anchor="middle" fill="#000" style="font-style:italic;" >bc</text>
<text x="578.4" y="1305.5" font-size="28" text-anchor="middle" fill="#000" style="font-style:italic;" >bc</text>
<text x="622.5" y="1207.7" font-size="28" text-anchor="middle" fill="#000" style="font-style:italic;" >b</text>
<line x1="69" y1="1475.5" x2="647.5" y2="1475.5" stroke="#000" stroke-width="1.8" stroke-linecap="butt"/>
<line x1="94.02" y1="1475.5" x2="94.02" y2="1480.5" stroke="#000" stroke-width="1.6" stroke-linecap="butt"/>
<text x="94.02" y="1502" font-size="22" text-anchor="middle" fill="#000" style="" >8</text>
<line x1="142.06" y1="1475.5" x2="142.06" y2="1480.5" stroke="#000" stroke-width="1.6" stroke-linecap="butt"/>
<text x="142.06" y="1502" font-size="22" text-anchor="middle" fill="#000" style="" >9</text>
<line x1="190.1" y1="1475.5" x2="190.1" y2="1480.5" stroke="#000" stroke-width="1.6" stroke-linecap="butt"/>
<text x="190.1" y="1502" font-size="22" text-anchor="middle" fill="#000" style="" >10</text>
<line x1="238.15" y1="1475.5" x2="238.15" y2="1480.5" stroke="#000" stroke-width="1.6" stroke-linecap="butt"/>
<text x="238.15" y="1502" font-size="22" text-anchor="middle" fill="#000" style="" >11</text>
<line x1="286.19" y1="1475.5" x2="286.19" y2="1480.5" stroke="#000" stroke-width="1.6" stroke-linecap="butt"/>
<text x="286.19" y="1502" font-size="22" text-anchor="middle" fill="#000" style="" >12</text>
<line x1="334.23" y1="1475.5" x2="334.23" y2="1480.5" stroke="#000" stroke-width="1.6" stroke-linecap="butt"/>
<text x="334.23" y="1502" font-size="22" text-anchor="middle" fill="#000" style="" >13</text>
<line x1="382.27" y1="1475.5" x2="382.27" y2="1480.5" stroke="#000" stroke-width="1.6" stroke-linecap="butt"/>
<text x="382.27" y="1502" font-size="22" text-anchor="middle" fill="#000" style="" >14</text>
<line x1="430.31" y1="1475.5" x2="430.31" y2="1480.5" stroke="#000" stroke-width="1.6" stroke-linecap="butt"/>
<text x="430.31" y="1502" font-size="22" text-anchor="middle" fill="#000" style="" >15</text>
<line x1="478.35" y1="1475.5" x2="478.35" y2="1480.5" stroke="#000" stroke-width="1.6" stroke-linecap="butt"/>
<text x="478.35" y="1502" font-size="22" text-anchor="middle" fill="#000" style="" >16</text>
<line x1="526.4" y1="1475.5" x2="526.4" y2="1480.5" stroke="#000" stroke-width="1.6" stroke-linecap="butt"/>
<text x="526.4" y="1502" font-size="22" text-anchor="middle" fill="#000" style="" >17</text>
<line x1="574.44" y1="1475.5" x2="574.44" y2="1480.5" stroke="#000" stroke-width="1.6" stroke-linecap="butt"/>
<text x="574.44" y="1502" font-size="22" text-anchor="middle" fill="#000" style="" >18</text>
<line x1="622.48" y1="1475.5" x2="622.48" y2="1480.5" stroke="#000" stroke-width="1.6" stroke-linecap="butt"/>
<text x="622.48" y="1502" font-size="22" text-anchor="middle" fill="#000" style="" >19</text>
<line x1="70" y1="1475.5" x2="70" y2="1478.5" stroke="#000" stroke-width="1.3" stroke-linecap="butt"/>
<line x1="118.04" y1="1475.5" x2="118.04" y2="1478.5" stroke="#000" stroke-width="1.3" stroke-linecap="butt"/>
<line x1="166.08" y1="1475.5" x2="166.08" y2="1478.5" stroke="#000" stroke-width="1.3" stroke-linecap="butt"/>
<line x1="214.12" y1="1475.5" x2="214.12" y2="1478.5" stroke="#000" stroke-width="1.3" stroke-linecap="butt"/>
<line x1="262.17" y1="1475.5" x2="262.17" y2="1478.5" stroke="#000" stroke-width="1.3" stroke-linecap="butt"/>
<line x1="310.21" y1="1475.5" x2="310.21" y2="1478.5" stroke="#000" stroke-width="1.3" stroke-linecap="butt"/>
<line x1="358.25" y1="1475.5" x2="358.25" y2="1478.5" stroke="#000" stroke-width="1.3" stroke-linecap="butt"/>
<line x1="406.29" y1="1475.5" x2="406.29" y2="1478.5" stroke="#000" stroke-width="1.3" stroke-linecap="butt"/>
<line x1="454.33" y1="1475.5" x2="454.33" y2="1478.5" stroke="#000" stroke-width="1.3" stroke-linecap="butt"/>
<line x1="502.38" y1="1475.5" x2="502.38" y2="1478.5" stroke="#000" stroke-width="1.3" stroke-linecap="butt"/>
<line x1="550.42" y1="1475.5" x2="550.42" y2="1478.5" stroke="#000" stroke-width="1.3" stroke-linecap="butt"/>
<line x1="598.46" y1="1475.5" x2="598.46" y2="1478.5" stroke="#000" stroke-width="1.3" stroke-linecap="butt"/>
<line x1="646.5" y1="1475.5" x2="646.5" y2="1478.5" stroke="#000" stroke-width="1.3" stroke-linecap="butt"/>
<line x1="646.5" y1="1113.5" x2="646.5" y2="1476.5" stroke="#0000dc" stroke-width="1.8" stroke-linecap="butt"/>
<line x1="646.5" y1="1475.5" x2="652" y2="1475.5" stroke="#0000dc" stroke-width="1.8" stroke-linecap="butt"/>
<text x="654.5" y="1482.5" font-size="22" text-anchor="start" fill="#0000dc" style="" >0</text>
<line x1="646.5" y1="1435.28" x2="650" y2="1435.28" stroke="#0000dc" stroke-width="1.8" stroke-linecap="butt"/>
<line x1="646.5" y1="1395.06" x2="652" y2="1395.06" stroke="#0000dc" stroke-width="1.8" stroke-linecap="butt"/>
<text x="654.5" y="1402.06" font-size="22" text-anchor="start" fill="#0000dc" style="" >100</text>
<line x1="646.5" y1="1354.83" x2="650" y2="1354.83" stroke="#0000dc" stroke-width="1.8" stroke-linecap="butt"/>
<line x1="646.5" y1="1314.61" x2="652" y2="1314.61" stroke="#0000dc" stroke-width="1.8" stroke-linecap="butt"/>
<text x="654.5" y="1321.61" font-size="22" text-anchor="start" fill="#0000dc" style="" >200</text>
<line x1="646.5" y1="1274.39" x2="650" y2="1274.39" stroke="#0000dc" stroke-width="1.8" stroke-linecap="butt"/>
<line x1="646.5" y1="1234.17" x2="652" y2="1234.17" stroke="#0000dc" stroke-width="1.8" stroke-linecap="butt"/>
<text x="654.5" y="1241.17" font-size="22" text-anchor="start" fill="#0000dc" style="" >300</text>
<line x1="646.5" y1="1193.94" x2="650" y2="1193.94" stroke="#0000dc" stroke-width="1.8" stroke-linecap="butt"/>
<line x1="646.5" y1="1153.72" x2="652" y2="1153.72" stroke="#0000dc" stroke-width="1.8" stroke-linecap="butt"/>
<text x="654.5" y="1160.72" font-size="22" text-anchor="start" fill="#0000dc" style="" >400</text>
<line x1="646.5" y1="1113.5" x2="650" y2="1113.5" stroke="#0000dc" stroke-width="1.8" stroke-linecap="butt"/>
<line x1="70" y1="1476.5" x2="70" y2="1153.1" stroke="#000" stroke-width="1.7" stroke-linecap="butt"/>
<line x1="70" y1="1145.6" x2="70" y2="1112.5" stroke="#000" stroke-width="1.7" stroke-linecap="butt"/>
<line x1="64.7" y1="1150.4" x2="75.3" y2="1144.8" stroke="#000" stroke-width="1.9" stroke-linecap="butt"/>
<line x1="64.7" y1="1156.4" x2="75.3" y2="1150.8" stroke="#000" stroke-width="1.9" stroke-linecap="butt"/>
<line x1="70" y1="1475.5" x2="64.5" y2="1475.5" stroke="#000" stroke-width="1.8" stroke-linecap="butt"/>
<text x="60" y="1482.5" font-size="22" text-anchor="end" fill="#000" style="" >0</text>
<line x1="70" y1="1446.65" x2="67" y2="1446.65" stroke="#000" stroke-width="1.8" stroke-linecap="butt"/>
<line x1="70" y1="1417.8" x2="64.5" y2="1417.8" stroke="#000" stroke-width="1.8" stroke-linecap="butt"/>
<text x="60" y="1424.8" font-size="22" text-anchor="end" fill="#000" style="" >2</text>
<line x1="70" y1="1388.95" x2="67" y2="1388.95" stroke="#000" stroke-width="1.8" stroke-linecap="butt"/>
<line x1="70" y1="1360.1" x2="64.5" y2="1360.1" stroke="#000" stroke-width="1.8" stroke-linecap="butt"/>
<text x="60" y="1367.1" font-size="22" text-anchor="end" fill="#000" style="" >4</text>
<line x1="70" y1="1331.25" x2="67" y2="1331.25" stroke="#000" stroke-width="1.8" stroke-linecap="butt"/>
<line x1="70" y1="1302.4" x2="64.5" y2="1302.4" stroke="#000" stroke-width="1.8" stroke-linecap="butt"/>
<text x="60" y="1309.4" font-size="22" text-anchor="end" fill="#000" style="" >6</text>
<line x1="70" y1="1273.55" x2="67" y2="1273.55" stroke="#000" stroke-width="1.8" stroke-linecap="butt"/>
<line x1="70" y1="1244.7" x2="64.5" y2="1244.7" stroke="#000" stroke-width="1.8" stroke-linecap="butt"/>
<text x="60" y="1251.7" font-size="22" text-anchor="end" fill="#000" style="" >8</text>
<line x1="70" y1="1215.85" x2="67" y2="1215.85" stroke="#000" stroke-width="1.8" stroke-linecap="butt"/>
<line x1="70" y1="1187" x2="64.5" y2="1187" stroke="#000" stroke-width="1.8" stroke-linecap="butt"/>
<text x="60" y="1194" font-size="22" text-anchor="end" fill="#000" style="" >10</text>
<line x1="70" y1="1158.15" x2="67" y2="1158.15" stroke="#000" stroke-width="1.8" stroke-linecap="butt"/>
<line x1="70" y1="1136.6" x2="64.5" y2="1136.6" stroke="#000" stroke-width="1.8" stroke-linecap="butt"/>
<text x="60" y="1143.6" font-size="22" text-anchor="end" fill="#000" style="" >18</text>
<line x1="70" y1="1124.6" x2="67" y2="1124.6" stroke="#000" stroke-width="1.8" stroke-linecap="butt"/>
<line x1="70" y1="1113.5" x2="64.5" y2="1113.5" stroke="#000" stroke-width="1.8" stroke-linecap="butt"/>
<text x="60" y="1120.5" font-size="22" text-anchor="end" fill="#000" style="" >20</text>
<text transform="translate(23.5,1289.6) rotate(-90)" font-size="29.6" text-anchor="middle">POC (mg/L)</text>
<text transform="translate(726.2,1292.7) rotate(-90)" font-size="29.4" text-anchor="middle">Tidal Height (cm)</text>
<text x="357.4" y="1551" font-size="35.4" text-anchor="middle" fill="#000" style="" >Jan. 2018</text>
<rect x="788.28" y="1378.7" width="37.41" height="96.6" fill="url(#cross)" stroke="#000" stroke-width="2.4"/>
<line x1="806.98" y1="1366.3" x2="806.98" y2="1390.1" stroke="#000" stroke-width="2" stroke-linecap="butt"/>
<line x1="803.38" y1="1366.3" x2="810.58" y2="1366.3" stroke="#000" stroke-width="2.2" stroke-linecap="butt"/>
<line x1="803.38" y1="1390.1" x2="810.58" y2="1390.1" stroke="#000" stroke-width="2.2" stroke-linecap="butt"/>
<rect x="836.24" y="1403.1" width="37.41" height="72.2" fill="url(#cross)" stroke="#000" stroke-width="2.4"/>
<line x1="854.95" y1="1391.7" x2="854.95" y2="1414.5" stroke="#000" stroke-width="2" stroke-linecap="butt"/>
<line x1="851.35" y1="1391.7" x2="858.55" y2="1391.7" stroke="#000" stroke-width="2.2" stroke-linecap="butt"/>
<line x1="851.35" y1="1414.5" x2="858.55" y2="1414.5" stroke="#000" stroke-width="2.2" stroke-linecap="butt"/>
<rect x="884.21" y="1409.7" width="37.41" height="65.6" fill="url(#cross)" stroke="#000" stroke-width="2.4"/>
<line x1="902.92" y1="1393.4" x2="902.92" y2="1425.3" stroke="#000" stroke-width="2" stroke-linecap="butt"/>
<line x1="899.32" y1="1393.4" x2="906.52" y2="1393.4" stroke="#000" stroke-width="2.2" stroke-linecap="butt"/>
<line x1="899.32" y1="1425.3" x2="906.52" y2="1425.3" stroke="#000" stroke-width="2.2" stroke-linecap="butt"/>
<rect x="932.18" y="1408.3" width="37.41" height="67" fill="url(#cross)" stroke="#000" stroke-width="2.4"/>
<line x1="950.88" y1="1406.2" x2="950.88" y2="1410.8" stroke="#000" stroke-width="2" stroke-linecap="butt"/>
<line x1="947.28" y1="1406.2" x2="954.48" y2="1406.2" stroke="#000" stroke-width="2.2" stroke-linecap="butt"/>
<line x1="947.28" y1="1410.8" x2="954.48" y2="1410.8" stroke="#000" stroke-width="2.2" stroke-linecap="butt"/>
<rect x="980.14" y="1411.4" width="37.41" height="63.9" fill="url(#cross)" stroke="#000" stroke-width="2.4"/>
<line x1="998.85" y1="1396.3" x2="998.85" y2="1425.3" stroke="#000" stroke-width="2" stroke-linecap="butt"/>
<line x1="995.25" y1="1396.3" x2="1002.45" y2="1396.3" stroke="#000" stroke-width="2.2" stroke-linecap="butt"/>
<line x1="995.25" y1="1425.3" x2="1002.45" y2="1425.3" stroke="#000" stroke-width="2.2" stroke-linecap="butt"/>
<rect x="1028.11" y="1425.1" width="37.41" height="50.2" fill="url(#cross)" stroke="#000" stroke-width="2.4"/>
<line x1="1046.82" y1="1414.3" x2="1046.82" y2="1434.5" stroke="#000" stroke-width="2" stroke-linecap="butt"/>
<line x1="1043.22" y1="1414.3" x2="1050.42" y2="1414.3" stroke="#000" stroke-width="2.2" stroke-linecap="butt"/>
<line x1="1043.22" y1="1434.5" x2="1050.42" y2="1434.5" stroke="#000" stroke-width="2.2" stroke-linecap="butt"/>
<rect x="1076.08" y="1412.9" width="37.41" height="62.4" fill="url(#cross)" stroke="#000" stroke-width="2.4"/>
<line x1="1094.78" y1="1387.5" x2="1094.78" y2="1437" stroke="#000" stroke-width="2" stroke-linecap="butt"/>
<line x1="1091.18" y1="1387.5" x2="1098.38" y2="1387.5" stroke="#000" stroke-width="2.2" stroke-linecap="butt"/>
<line x1="1091.18" y1="1437" x2="1098.38" y2="1437" stroke="#000" stroke-width="2.2" stroke-linecap="butt"/>
<rect x="1124.04" y="1432.2" width="37.41" height="43.1" fill="url(#cross)" stroke="#000" stroke-width="2.4"/>
<line x1="1142.75" y1="1420.9" x2="1142.75" y2="1444.5" stroke="#000" stroke-width="2" stroke-linecap="butt"/>
<line x1="1139.15" y1="1420.9" x2="1146.35" y2="1420.9" stroke="#000" stroke-width="2.2" stroke-linecap="butt"/>
<line x1="1139.15" y1="1444.5" x2="1146.35" y2="1444.5" stroke="#000" stroke-width="2.2" stroke-linecap="butt"/>
<rect x="1172.01" y="1425" width="37.41" height="50.3" fill="url(#cross)" stroke="#000" stroke-width="2.4"/>
<line x1="1190.72" y1="1405.9" x2="1190.72" y2="1443.8" stroke="#000" stroke-width="2" stroke-linecap="butt"/>
<line x1="1187.12" y1="1405.9" x2="1194.32" y2="1405.9" stroke="#000" stroke-width="2.2" stroke-linecap="butt"/>
<line x1="1187.12" y1="1443.8" x2="1194.32" y2="1443.8" stroke="#000" stroke-width="2.2" stroke-linecap="butt"/>
<rect x="1219.98" y="1426.4" width="37.41" height="48.9" fill="url(#cross)" stroke="#000" stroke-width="2.4"/>
<line x1="1238.68" y1="1410.7" x2="1238.68" y2="1442.6" stroke="#000" stroke-width="2" stroke-linecap="butt"/>
<line x1="1235.08" y1="1410.7" x2="1242.28" y2="1410.7" stroke="#000" stroke-width="2.2" stroke-linecap="butt"/>
<line x1="1235.08" y1="1442.6" x2="1242.28" y2="1442.6" stroke="#000" stroke-width="2.2" stroke-linecap="butt"/>
<rect x="1267.94" y="1368.5" width="37.41" height="106.8" fill="url(#cross)" stroke="#000" stroke-width="2.4"/>
<line x1="1286.65" y1="1350.1" x2="1286.65" y2="1385.9" stroke="#000" stroke-width="2" stroke-linecap="butt"/>
<line x1="1283.05" y1="1350.1" x2="1290.25" y2="1350.1" stroke="#000" stroke-width="2.2" stroke-linecap="butt"/>
<line x1="1283.05" y1="1385.9" x2="1290.25" y2="1385.9" stroke="#000" stroke-width="2.2" stroke-linecap="butt"/>
<rect x="1315.91" y="1327.2" width="37.41" height="148.1" fill="url(#cross)" stroke="#000" stroke-width="2.4"/>
<line x1="1334.62" y1="1315.1" x2="1334.62" y2="1339.3" stroke="#000" stroke-width="2" stroke-linecap="butt"/>
<line x1="1331.02" y1="1315.1" x2="1338.22" y2="1315.1" stroke="#000" stroke-width="2.2" stroke-linecap="butt"/>
<line x1="1331.02" y1="1339.3" x2="1338.22" y2="1339.3" stroke="#000" stroke-width="2.2" stroke-linecap="butt"/>
<polyline fill="none" stroke="#0000dc" stroke-width="2.2" stroke-linejoin="round" points="783,1354.5 806.98,1368.5 854.95,1387 902.92,1381.8 950.88,1350.4 998.85,1295.5 1046.82,1234.3 1094.78,1185 1142.75,1161.4 1190.72,1167.9 1238.68,1202.4 1286.65,1253.1 1334.62,1303.8 1358.6,1325"/>
<rect x="804.48" y="1366" width="5" height="5" fill="#0000dc"/>
<rect x="852.45" y="1384.5" width="5" height="5" fill="#0000dc"/>
<rect x="900.42" y="1379.3" width="5" height="5" fill="#0000dc"/>
<rect x="948.38" y="1347.9" width="5" height="5" fill="#0000dc"/>
<rect x="996.35" y="1293" width="5" height="5" fill="#0000dc"/>
<rect x="1044.32" y="1231.8" width="5" height="5" fill="#0000dc"/>
<rect x="1092.28" y="1182.5" width="5" height="5" fill="#0000dc"/>
<rect x="1140.25" y="1158.9" width="5" height="5" fill="#0000dc"/>
<rect x="1188.22" y="1165.4" width="5" height="5" fill="#0000dc"/>
<rect x="1236.18" y="1199.9" width="5" height="5" fill="#0000dc"/>
<rect x="1284.15" y="1250.6" width="5" height="5" fill="#0000dc"/>
<rect x="1332.12" y="1301.3" width="5" height="5" fill="#0000dc"/>
<text x="806" y="1346.6" font-size="23.5" text-anchor="middle" fill="#000" style="font-style:italic;" >AB</text>
<text x="855.1" y="1364.4" font-size="23.5" text-anchor="middle" fill="#000" style="font-style:italic;" >AB</text>
<text x="895" y="1368" font-size="23.5" text-anchor="middle" fill="#000" style="font-style:italic;" >AB</text>
<text x="945.7" y="1381.4" font-size="23.5" text-anchor="middle" fill="#000" style="font-style:italic;" >AB</text>
<text x="999.5" y="1370" font-size="23.5" text-anchor="middle" fill="#000" style="font-style:italic;" >AB</text>
<text x="1044.1" y="1393" font-size="23.5" text-anchor="middle" fill="#000" style="font-style:italic;" >AB</text>
<text x="1096" y="1364.6" font-size="23.5" text-anchor="middle" fill="#000" style="font-style:italic;" >AB</text>
<text x="1139.5" y="1401.5" font-size="28" text-anchor="middle" fill="#000" style="font-style:italic;" >B</text>
<text x="1192.6" y="1376.2" font-size="23.5" text-anchor="middle" fill="#000" style="font-style:italic;" >AB</text>
<text x="1239.6" y="1381.8" font-size="23.5" text-anchor="middle" fill="#000" style="font-style:italic;" >AB</text>
<text x="1289.1" y="1327.4" font-size="23.5" text-anchor="middle" fill="#000" style="font-style:italic;" >AB</text>
<text x="1338.6" y="1282.1" font-size="28" text-anchor="middle" fill="#000" style="font-style:italic;" >A</text>
<line x1="782" y1="1475.3" x2="1359.6" y2="1475.3" stroke="#000" stroke-width="1.8" stroke-linecap="butt"/>
<line x1="806.98" y1="1475.3" x2="806.98" y2="1480.3" stroke="#000" stroke-width="1.6" stroke-linecap="butt"/>
<text x="806.98" y="1502" font-size="22" text-anchor="middle" fill="#000" style="" >8</text>
<line x1="854.95" y1="1475.3" x2="854.95" y2="1480.3" stroke="#000" stroke-width="1.6" stroke-linecap="butt"/>
<text x="854.95" y="1502" font-size="22" text-anchor="middle" fill="#000" style="" >9</text>
<line x1="902.92" y1="1475.3" x2="902.92" y2="1480.3" stroke="#000" stroke-width="1.6" stroke-linecap="butt"/>
<text x="902.92" y="1502" font-size="22" text-anchor="middle" fill="#000" style="" >10</text>
<line x1="950.88" y1="1475.3" x2="950.88" y2="1480.3" stroke="#000" stroke-width="1.6" stroke-linecap="butt"/>
<text x="950.88" y="1502" font-size="22" text-anchor="middle" fill="#000" style="" >11</text>
<line x1="998.85" y1="1475.3" x2="998.85" y2="1480.3" stroke="#000" stroke-width="1.6" stroke-linecap="butt"/>
<text x="998.85" y="1502" font-size="22" text-anchor="middle" fill="#000" style="" >12</text>
<line x1="1046.82" y1="1475.3" x2="1046.82" y2="1480.3" stroke="#000" stroke-width="1.6" stroke-linecap="butt"/>
<text x="1046.82" y="1502" font-size="22" text-anchor="middle" fill="#000" style="" >13</text>
<line x1="1094.78" y1="1475.3" x2="1094.78" y2="1480.3" stroke="#000" stroke-width="1.6" stroke-linecap="butt"/>
<text x="1094.78" y="1502" font-size="22" text-anchor="middle" fill="#000" style="" >14</text>
<line x1="1142.75" y1="1475.3" x2="1142.75" y2="1480.3" stroke="#000" stroke-width="1.6" stroke-linecap="butt"/>
<text x="1142.75" y="1502" font-size="22" text-anchor="middle" fill="#000" style="" >15</text>
<line x1="1190.72" y1="1475.3" x2="1190.72" y2="1480.3" stroke="#000" stroke-width="1.6" stroke-linecap="butt"/>
<text x="1190.72" y="1502" font-size="22" text-anchor="middle" fill="#000" style="" >16</text>
<line x1="1238.68" y1="1475.3" x2="1238.68" y2="1480.3" stroke="#000" stroke-width="1.6" stroke-linecap="butt"/>
<text x="1238.68" y="1502" font-size="22" text-anchor="middle" fill="#000" style="" >17</text>
<line x1="1286.65" y1="1475.3" x2="1286.65" y2="1480.3" stroke="#000" stroke-width="1.6" stroke-linecap="butt"/>
<text x="1286.65" y="1502" font-size="22" text-anchor="middle" fill="#000" style="" >18</text>
<line x1="1334.62" y1="1475.3" x2="1334.62" y2="1480.3" stroke="#000" stroke-width="1.6" stroke-linecap="butt"/>
<text x="1334.62" y="1502" font-size="22" text-anchor="middle" fill="#000" style="" >19</text>
<line x1="783" y1="1475.3" x2="783" y2="1478.3" stroke="#000" stroke-width="1.3" stroke-linecap="butt"/>
<line x1="830.97" y1="1475.3" x2="830.97" y2="1478.3" stroke="#000" stroke-width="1.3" stroke-linecap="butt"/>
<line x1="878.93" y1="1475.3" x2="878.93" y2="1478.3" stroke="#000" stroke-width="1.3" stroke-linecap="butt"/>
<line x1="926.9" y1="1475.3" x2="926.9" y2="1478.3" stroke="#000" stroke-width="1.3" stroke-linecap="butt"/>
<line x1="974.87" y1="1475.3" x2="974.87" y2="1478.3" stroke="#000" stroke-width="1.3" stroke-linecap="butt"/>
<line x1="1022.83" y1="1475.3" x2="1022.83" y2="1478.3" stroke="#000" stroke-width="1.3" stroke-linecap="butt"/>
<line x1="1070.8" y1="1475.3" x2="1070.8" y2="1478.3" stroke="#000" stroke-width="1.3" stroke-linecap="butt"/>
<line x1="1118.77" y1="1475.3" x2="1118.77" y2="1478.3" stroke="#000" stroke-width="1.3" stroke-linecap="butt"/>
<line x1="1166.73" y1="1475.3" x2="1166.73" y2="1478.3" stroke="#000" stroke-width="1.3" stroke-linecap="butt"/>
<line x1="1214.7" y1="1475.3" x2="1214.7" y2="1478.3" stroke="#000" stroke-width="1.3" stroke-linecap="butt"/>
<line x1="1262.67" y1="1475.3" x2="1262.67" y2="1478.3" stroke="#000" stroke-width="1.3" stroke-linecap="butt"/>
<line x1="1310.63" y1="1475.3" x2="1310.63" y2="1478.3" stroke="#000" stroke-width="1.3" stroke-linecap="butt"/>
<line x1="1358.6" y1="1475.3" x2="1358.6" y2="1478.3" stroke="#000" stroke-width="1.3" stroke-linecap="butt"/>
<line x1="783" y1="1113.5" x2="783" y2="1476.3" stroke="#0000dc" stroke-width="1.8" stroke-linecap="butt"/>
<line x1="783" y1="1475.3" x2="777.5" y2="1475.3" stroke="#0000dc" stroke-width="1.8" stroke-linecap="butt"/>
<text x="773" y="1482.3" font-size="22" text-anchor="end" fill="#0000dc" style="" >0</text>
<line x1="783" y1="1435.1" x2="779.5" y2="1435.1" stroke="#0000dc" stroke-width="1.8" stroke-linecap="butt"/>
<line x1="783" y1="1394.9" x2="777.5" y2="1394.9" stroke="#0000dc" stroke-width="1.8" stroke-linecap="butt"/>
<text x="773" y="1401.9" font-size="22" text-anchor="end" fill="#0000dc" style="" >100</text>
<line x1="783" y1="1354.7" x2="779.5" y2="1354.7" stroke="#0000dc" stroke-width="1.8" stroke-linecap="butt"/>
<line x1="783" y1="1314.5" x2="777.5" y2="1314.5" stroke="#0000dc" stroke-width="1.8" stroke-linecap="butt"/>
<text x="773" y="1321.5" font-size="22" text-anchor="end" fill="#0000dc" style="" >200</text>
<line x1="783" y1="1274.3" x2="779.5" y2="1274.3" stroke="#0000dc" stroke-width="1.8" stroke-linecap="butt"/>
<line x1="783" y1="1234.1" x2="777.5" y2="1234.1" stroke="#0000dc" stroke-width="1.8" stroke-linecap="butt"/>
<text x="773" y="1241.1" font-size="22" text-anchor="end" fill="#0000dc" style="" >300</text>
<line x1="783" y1="1193.9" x2="779.5" y2="1193.9" stroke="#0000dc" stroke-width="1.8" stroke-linecap="butt"/>
<line x1="783" y1="1153.7" x2="777.5" y2="1153.7" stroke="#0000dc" stroke-width="1.8" stroke-linecap="butt"/>
<text x="773" y="1160.7" font-size="22" text-anchor="end" fill="#0000dc" style="" >400</text>
<line x1="783" y1="1113.5" x2="779.5" y2="1113.5" stroke="#0000dc" stroke-width="1.8" stroke-linecap="butt"/>
<line x1="1358.6" y1="1476.3" x2="1358.6" y2="1151" stroke="#000" stroke-width="1.7" stroke-linecap="butt"/>
<line x1="1358.6" y1="1143.5" x2="1358.6" y2="1112.5" stroke="#000" stroke-width="1.7" stroke-linecap="butt"/>
<line x1="1353.3" y1="1148.3" x2="1363.9" y2="1142.7" stroke="#000" stroke-width="1.9" stroke-linecap="butt"/>
<line x1="1353.3" y1="1154.3" x2="1363.9" y2="1148.7" stroke="#000" stroke-width="1.9" stroke-linecap="butt"/>
<line x1="1358.6" y1="1475.3" x2="1364.1" y2="1475.3" stroke="#000" stroke-width="1.8" stroke-linecap="butt"/>
<text x="1367.6" y="1482.3" font-size="22" text-anchor="start" fill="#000" style="" >0</text>
<line x1="1358.6" y1="1435.91" x2="1361.6" y2="1435.91" stroke="#000" stroke-width="1.8" stroke-linecap="butt"/>
<line x1="1358.6" y1="1396.52" x2="1364.1" y2="1396.52" stroke="#000" stroke-width="1.8" stroke-linecap="butt"/>
<text x="1367.6" y="1403.52" font-size="22" text-anchor="start" fill="#000" style="" >2</text>
<line x1="1358.6" y1="1357.13" x2="1361.6" y2="1357.13" stroke="#000" stroke-width="1.8" stroke-linecap="butt"/>
<line x1="1358.6" y1="1317.74" x2="1364.1" y2="1317.74" stroke="#000" stroke-width="1.8" stroke-linecap="butt"/>
<text x="1367.6" y="1324.74" font-size="22" text-anchor="start" fill="#000" style="" >4</text>
<line x1="1358.6" y1="1278.35" x2="1361.6" y2="1278.35" stroke="#000" stroke-width="1.8" stroke-linecap="butt"/>
<line x1="1358.6" y1="1238.96" x2="1364.1" y2="1238.96" stroke="#000" stroke-width="1.8" stroke-linecap="butt"/>
<text x="1367.6" y="1245.96" font-size="22" text-anchor="start" fill="#000" style="" >6</text>
<line x1="1358.6" y1="1199.57" x2="1361.6" y2="1199.57" stroke="#000" stroke-width="1.8" stroke-linecap="butt"/>
<line x1="1358.6" y1="1160.18" x2="1364.1" y2="1160.18" stroke="#000" stroke-width="1.8" stroke-linecap="butt"/>
<text x="1367.6" y="1167.18" font-size="22" text-anchor="start" fill="#000" style="" >8</text>
<line x1="1358.6" y1="1136.8" x2="1364.1" y2="1136.8" stroke="#000" stroke-width="1.8" stroke-linecap="butt"/>
<text x="1367.6" y="1143.8" font-size="22" text-anchor="start" fill="#000" style="" >18</text>
<line x1="1358.6" y1="1125.2" x2="1361.6" y2="1125.2" stroke="#000" stroke-width="1.8" stroke-linecap="butt"/>
<line x1="1358.6" y1="1113.6" x2="1364.1" y2="1113.6" stroke="#000" stroke-width="1.8" stroke-linecap="butt"/>
<text x="1367.6" y="1120.6" font-size="22" text-anchor="start" fill="#000" style="" >20</text>
<text transform="translate(1420.5,1286.5) rotate(-90)" font-size="29.7" text-anchor="middle">DOC (mg/L)</text>
<text x="1070" y="1551" font-size="35.4" text-anchor="middle" fill="#000" style="" >Jan. 2018</text>
<rect x="74.97" y="1919.4" width="34.38" height="38.6" fill="url(#hatch)" stroke="#000" stroke-width="2.4"/>
<line x1="92.15" y1="1918.4" x2="92.15" y2="1921" stroke="#000" stroke-width="2" stroke-linecap="butt"/>
<line x1="88.55" y1="1918.4" x2="95.75" y2="1918.4" stroke="#000" stroke-width="2.2" stroke-linecap="butt"/>
<line x1="88.55" y1="1921" x2="95.75" y2="1921" stroke="#000" stroke-width="2.2" stroke-linecap="butt"/>
<rect x="119.27" y="1927.3" width="34.38" height="30.7" fill="url(#hatch)" stroke="#000" stroke-width="2.4"/>
<line x1="136.46" y1="1918" x2="136.46" y2="1936.2" stroke="#000" stroke-width="2" stroke-linecap="butt"/>
<line x1="132.86" y1="1918" x2="140.06" y2="1918" stroke="#000" stroke-width="2.2" stroke-linecap="butt"/>
<line x1="132.86" y1="1936.2" x2="140.06" y2="1936.2" stroke="#000" stroke-width="2.2" stroke-linecap="butt"/>
<rect x="163.58" y="1931.4" width="34.38" height="26.6" fill="url(#hatch)" stroke="#000" stroke-width="2.4"/>
<line x1="180.77" y1="1921.5" x2="180.77" y2="1941.1" stroke="#000" stroke-width="2" stroke-linecap="butt"/>
<line x1="177.17" y1="1921.5" x2="184.37" y2="1921.5" stroke="#000" stroke-width="2.2" stroke-linecap="butt"/>
<line x1="177.17" y1="1941.1" x2="184.37" y2="1941.1" stroke="#000" stroke-width="2.2" stroke-linecap="butt"/>
<rect x="207.89" y="1865.6" width="34.38" height="92.4" fill="url(#hatch)" stroke="#000" stroke-width="2.4"/>
<line x1="225.08" y1="1863.5" x2="225.08" y2="1868.7" stroke="#000" stroke-width="2" stroke-linecap="butt"/>
<line x1="221.48" y1="1863.5" x2="228.68" y2="1863.5" stroke="#000" stroke-width="2.2" stroke-linecap="butt"/>
<line x1="221.48" y1="1868.7" x2="228.68" y2="1868.7" stroke="#000" stroke-width="2.2" stroke-linecap="butt"/>
<rect x="252.2" y="1863.5" width="34.38" height="94.5" fill="url(#hatch)" stroke="#000" stroke-width="2.4"/>
<line x1="269.38" y1="1863.1" x2="269.38" y2="1864.8" stroke="#000" stroke-width="2" stroke-linecap="butt"/>
<line x1="265.78" y1="1863.1" x2="272.98" y2="1863.1" stroke="#000" stroke-width="2.2" stroke-linecap="butt"/>
<line x1="265.78" y1="1864.8" x2="272.98" y2="1864.8" stroke="#000" stroke-width="2.2" stroke-linecap="butt"/>
<rect x="296.5" y="1877" width="34.38" height="81" fill="url(#hatch)" stroke="#000" stroke-width="2.4"/>
<line x1="313.69" y1="1871" x2="313.69" y2="1882.4" stroke="#000" stroke-width="2" stroke-linecap="butt"/>
<line x1="310.09" y1="1871" x2="317.29" y2="1871" stroke="#000" stroke-width="2.2" stroke-linecap="butt"/>
<line x1="310.09" y1="1882.4" x2="317.29" y2="1882.4" stroke="#000" stroke-width="2.2" stroke-linecap="butt"/>
<rect x="340.81" y="1905.4" width="34.38" height="52.6" fill="url(#hatch)" stroke="#000" stroke-width="2.4"/>
<line x1="358" y1="1904.1" x2="358" y2="1907" stroke="#000" stroke-width="2" stroke-linecap="butt"/>
<line x1="354.4" y1="1904.1" x2="361.6" y2="1904.1" stroke="#000" stroke-width="2.2" stroke-linecap="butt"/>
<line x1="354.4" y1="1907" x2="361.6" y2="1907" stroke="#000" stroke-width="2.2" stroke-linecap="butt"/>
<rect x="385.12" y="1883.5" width="34.38" height="74.5" fill="url(#hatch)" stroke="#000" stroke-width="2.4"/>
<line x1="402.31" y1="1872.5" x2="402.31" y2="1895.9" stroke="#000" stroke-width="2" stroke-linecap="butt"/>
<line x1="398.71" y1="1872.5" x2="405.91" y2="1872.5" stroke="#000" stroke-width="2.2" stroke-linecap="butt"/>
<line x1="398.71" y1="1895.9" x2="405.91" y2="1895.9" stroke="#000" stroke-width="2.2" stroke-linecap="butt"/>
<rect x="429.43" y="1855.4" width="34.38" height="102.6" fill="url(#hatch)" stroke="#000" stroke-width="2.4"/>
<line x1="446.62" y1="1854.9" x2="446.62" y2="1856.1" stroke="#000" stroke-width="2" stroke-linecap="butt"/>
<line x1="443.02" y1="1854.9" x2="450.22" y2="1854.9" stroke="#000" stroke-width="2.2" stroke-linecap="butt"/>
<line x1="443.02" y1="1856.1" x2="450.22" y2="1856.1" stroke="#000" stroke-width="2.2" stroke-linecap="butt"/>
<rect x="473.74" y="1887" width="34.38" height="71" fill="url(#hatch)" stroke="#000" stroke-width="2.4"/>
<line x1="490.92" y1="1876" x2="490.92" y2="1896.6" stroke="#000" stroke-width="2" stroke-linecap="butt"/>
<line x1="487.32" y1="1876" x2="494.52" y2="1876" stroke="#000" stroke-width="2.2" stroke-linecap="butt"/>
<line x1="487.32" y1="1896.6" x2="494.52" y2="1896.6" stroke="#000" stroke-width="2.2" stroke-linecap="butt"/>
<rect x="518.04" y="1922.4" width="34.38" height="35.6" fill="url(#hatch)" stroke="#000" stroke-width="2.4"/>
<line x1="535.23" y1="1917.5" x2="535.23" y2="1926.9" stroke="#000" stroke-width="2" stroke-linecap="butt"/>
<line x1="531.63" y1="1917.5" x2="538.83" y2="1917.5" stroke="#000" stroke-width="2.2" stroke-linecap="butt"/>
<line x1="531.63" y1="1926.9" x2="538.83" y2="1926.9" stroke="#000" stroke-width="2.2" stroke-linecap="butt"/>
<rect x="562.35" y="1929.2" width="34.38" height="28.8" fill="url(#hatch)" stroke="#000" stroke-width="2.4"/>
<line x1="579.54" y1="1925.9" x2="579.54" y2="1931.8" stroke="#000" stroke-width="2" stroke-linecap="butt"/>
<line x1="575.94" y1="1925.9" x2="583.14" y2="1925.9" stroke="#000" stroke-width="2.2" stroke-linecap="butt"/>
<line x1="575.94" y1="1931.8" x2="583.14" y2="1931.8" stroke="#000" stroke-width="2.2" stroke-linecap="butt"/>
<rect x="606.66" y="1938.6" width="34.38" height="19.4" fill="url(#hatch)" stroke="#000" stroke-width="2.4"/>
<line x1="623.85" y1="1937.4" x2="623.85" y2="1939.8" stroke="#000" stroke-width="2" stroke-linecap="butt"/>
<line x1="620.25" y1="1937.4" x2="627.45" y2="1937.4" stroke="#000" stroke-width="2.2" stroke-linecap="butt"/>
<line x1="620.25" y1="1939.8" x2="627.45" y2="1939.8" stroke="#000" stroke-width="2.2" stroke-linecap="butt"/>
<polyline fill="none" stroke="#0000dc" stroke-width="2.2" stroke-linejoin="round" points="70,1908.2 92.15,1906.3 136.46,1862.3 180.77,1785.9 225.08,1706.7 269.38,1649.9 313.69,1627.1 358,1644.6 402.31,1694.2 446.62,1757.8 490.92,1818.6 535.23,1871.9 579.54,1907.9 623.85,1914.8 646,1898.8"/>
<rect x="89.65" y="1903.8" width="5" height="5" fill="#0000dc"/>
<rect x="133.96" y="1859.8" width="5" height="5" fill="#0000dc"/>
<rect x="178.27" y="1783.4" width="5" height="5" fill="#0000dc"/>
<rect x="222.58" y="1704.2" width="5" height="5" fill="#0000dc"/>
<rect x="266.88" y="1647.4" width="5" height="5" fill="#0000dc"/>
<rect x="311.19" y="1624.6" width="5" height="5" fill="#0000dc"/>
<rect x="355.5" y="1642.1" width="5" height="5" fill="#0000dc"/>
<rect x="399.81" y="1691.7" width="5" height="5" fill="#0000dc"/>
<rect x="444.12" y="1755.3" width="5" height="5" fill="#0000dc"/>
<rect x="488.42" y="1816.1" width="5" height="5" fill="#0000dc"/>
<rect x="532.73" y="1869.4" width="5" height="5" fill="#0000dc"/>
<rect x="577.04" y="1905.4" width="5" height="5" fill="#0000dc"/>
<rect x="621.35" y="1912.3" width="5" height="5" fill="#0000dc"/>
<text x="89" y="1895.6" font-size="28" text-anchor="middle" fill="#000" style="font-style:italic;" >de</text>
<text x="137.6" y="1906.6" font-size="28" text-anchor="middle" fill="#000" style="font-style:italic;" >de</text>
<text x="179" y="1910.7" font-size="28" text-anchor="middle" fill="#000" style="font-style:italic;" >e</text>
<text x="228.6" y="1842.4" font-size="28" text-anchor="middle" fill="#000" style="font-style:italic;" >ab</text>
<text x="273.1" y="1852.4" font-size="28" text-anchor="middle" fill="#000" style="font-style:italic;" >ab</text>
<text x="312.8" y="1860.4" font-size="28" text-anchor="middle" fill="#000" style="font-style:italic;" >ab</text>
<text x="361" y="1889.4" font-size="28" text-anchor="middle" fill="#000" style="font-style:italic;" >cd</text>
<text x="402.1" y="1860" font-size="28" text-anchor="middle" fill="#000" style="font-style:italic;" >bc</text>
<text x="448.5" y="1844.3" font-size="28" text-anchor="middle" fill="#000" style="font-style:italic;" >a</text>
<text x="494" y="1867.3" font-size="28" text-anchor="middle" fill="#000" style="font-style:italic;" >bc</text>
<text x="534.5" y="1906.9" font-size="28" text-anchor="middle" fill="#000" style="font-style:italic;" >de</text>
<text x="586.8" y="1895.9" font-size="28" text-anchor="middle" fill="#000" style="font-style:italic;" >de</text>
<text x="623.6" y="1928.7" font-size="28" text-anchor="middle" fill="#000" style="font-style:italic;" >e</text>
<line x1="69" y1="1958" x2="647" y2="1958" stroke="#000" stroke-width="1.8" stroke-linecap="butt"/>
<line x1="92.15" y1="1958" x2="92.15" y2="1963" stroke="#000" stroke-width="1.6" stroke-linecap="butt"/>
<text x="92.15" y="1984" font-size="22" text-anchor="middle" fill="#000" style="" >7</text>
<line x1="136.46" y1="1958" x2="136.46" y2="1963" stroke="#000" stroke-width="1.6" stroke-linecap="butt"/>
<text x="136.46" y="1984" font-size="22" text-anchor="middle" fill="#000" style="" >8</text>
<line x1="180.77" y1="1958" x2="180.77" y2="1963" stroke="#000" stroke-width="1.6" stroke-linecap="butt"/>
<text x="180.77" y="1984" font-size="22" text-anchor="middle" fill="#000" style="" >9</text>
<line x1="225.08" y1="1958" x2="225.08" y2="1963" stroke="#000" stroke-width="1.6" stroke-linecap="butt"/>
<text x="225.08" y="1984" font-size="22" text-anchor="middle" fill="#000" style="" >10</text>
<line x1="269.38" y1="1958" x2="269.38" y2="1963" stroke="#000" stroke-width="1.6" stroke-linecap="butt"/>
<text x="269.38" y="1984" font-size="22" text-anchor="middle" fill="#000" style="" >11</text>
<line x1="313.69" y1="1958" x2="313.69" y2="1963" stroke="#000" stroke-width="1.6" stroke-linecap="butt"/>
<text x="313.69" y="1984" font-size="22" text-anchor="middle" fill="#000" style="" >12</text>
<line x1="358" y1="1958" x2="358" y2="1963" stroke="#000" stroke-width="1.6" stroke-linecap="butt"/>
<text x="358" y="1984" font-size="22" text-anchor="middle" fill="#000" style="" >13</text>
<line x1="402.31" y1="1958" x2="402.31" y2="1963" stroke="#000" stroke-width="1.6" stroke-linecap="butt"/>
<text x="402.31" y="1984" font-size="22" text-anchor="middle" fill="#000" style="" >14</text>
<line x1="446.62" y1="1958" x2="446.62" y2="1963" stroke="#000" stroke-width="1.6" stroke-linecap="butt"/>
<text x="446.62" y="1984" font-size="22" text-anchor="middle" fill="#000" style="" >15</text>
<line x1="490.92" y1="1958" x2="490.92" y2="1963" stroke="#000" stroke-width="1.6" stroke-linecap="butt"/>
<text x="490.92" y="1984" font-size="22" text-anchor="middle" fill="#000" style="" >16</text>
<line x1="535.23" y1="1958" x2="535.23" y2="1963" stroke="#000" stroke-width="1.6" stroke-linecap="butt"/>
<text x="535.23" y="1984" font-size="22" text-anchor="middle" fill="#000" style="" >17</text>
<line x1="579.54" y1="1958" x2="579.54" y2="1963" stroke="#000" stroke-width="1.6" stroke-linecap="butt"/>
<text x="579.54" y="1984" font-size="22" text-anchor="middle" fill="#000" style="" >18</text>
<line x1="623.85" y1="1958" x2="623.85" y2="1963" stroke="#000" stroke-width="1.6" stroke-linecap="butt"/>
<text x="623.85" y="1984" font-size="22" text-anchor="middle" fill="#000" style="" >19</text>
<line x1="70" y1="1958" x2="70" y2="1961" stroke="#000" stroke-width="1.3" stroke-linecap="butt"/>
<line x1="114.31" y1="1958" x2="114.31" y2="1961" stroke="#000" stroke-width="1.3" stroke-linecap="butt"/>
<line x1="158.62" y1="1958" x2="158.62" y2="1961" stroke="#000" stroke-width="1.3" stroke-linecap="butt"/>
<line x1="202.92" y1="1958" x2="202.92" y2="1961" stroke="#000" stroke-width="1.3" stroke-linecap="butt"/>
<line x1="247.23" y1="1958" x2="247.23" y2="1961" stroke="#000" stroke-width="1.3" stroke-linecap="butt"/>
<line x1="291.54" y1="1958" x2="291.54" y2="1961" stroke="#000" stroke-width="1.3" stroke-linecap="butt"/>
<line x1="335.85" y1="1958" x2="335.85" y2="1961" stroke="#000" stroke-width="1.3" stroke-linecap="butt"/>
<line x1="380.15" y1="1958" x2="380.15" y2="1961" stroke="#000" stroke-width="1.3" stroke-linecap="butt"/>
<line x1="424.46" y1="1958" x2="424.46" y2="1961" stroke="#000" stroke-width="1.3" stroke-linecap="butt"/>
<line x1="468.77" y1="1958" x2="468.77" y2="1961" stroke="#000" stroke-width="1.3" stroke-linecap="butt"/>
<line x1="513.08" y1="1958" x2="513.08" y2="1961" stroke="#000" stroke-width="1.3" stroke-linecap="butt"/>
<line x1="557.38" y1="1958" x2="557.38" y2="1961" stroke="#000" stroke-width="1.3" stroke-linecap="butt"/>
<line x1="601.69" y1="1958" x2="601.69" y2="1961" stroke="#000" stroke-width="1.3" stroke-linecap="butt"/>
<line x1="646" y1="1958" x2="646" y2="1961" stroke="#000" stroke-width="1.3" stroke-linecap="butt"/>
<line x1="646" y1="1596" x2="646" y2="1959" stroke="#0000dc" stroke-width="1.8" stroke-linecap="butt"/>
<line x1="646" y1="1958" x2="651.5" y2="1958" stroke="#0000dc" stroke-width="1.8" stroke-linecap="butt"/>
<text x="654" y="1965" font-size="22" text-anchor="start" fill="#0000dc" style="" >0</text>
<line x1="646" y1="1917.78" x2="649.5" y2="1917.78" stroke="#0000dc" stroke-width="1.8" stroke-linecap="butt"/>
<line x1="646" y1="1877.56" x2="651.5" y2="1877.56" stroke="#0000dc" stroke-width="1.8" stroke-linecap="butt"/>
<text x="654" y="1884.56" font-size="22" text-anchor="start" fill="#0000dc" style="" >100</text>
<line x1="646" y1="1837.33" x2="649.5" y2="1837.33" stroke="#0000dc" stroke-width="1.8" stroke-linecap="butt"/>
<line x1="646" y1="1797.11" x2="651.5" y2="1797.11" stroke="#0000dc" stroke-width="1.8" stroke-linecap="butt"/>
<text x="654" y="1804.11" font-size="22" text-anchor="start" fill="#0000dc" style="" >200</text>
<line x1="646" y1="1756.89" x2="649.5" y2="1756.89" stroke="#0000dc" stroke-width="1.8" stroke-linecap="butt"/>
<line x1="646" y1="1716.67" x2="651.5" y2="1716.67" stroke="#0000dc" stroke-width="1.8" stroke-linecap="butt"/>
<text x="654" y="1723.67" font-size="22" text-anchor="start" fill="#0000dc" style="" >300</text>
<line x1="646" y1="1676.44" x2="649.5" y2="1676.44" stroke="#0000dc" stroke-width="1.8" stroke-linecap="butt"/>
<line x1="646" y1="1636.22" x2="651.5" y2="1636.22" stroke="#0000dc" stroke-width="1.8" stroke-linecap="butt"/>
<text x="654" y="1643.22" font-size="22" text-anchor="start" fill="#0000dc" style="" >400</text>
<line x1="646" y1="1596" x2="649.5" y2="1596" stroke="#0000dc" stroke-width="1.8" stroke-linecap="butt"/>
<line x1="70" y1="1959" x2="70" y2="1635" stroke="#000" stroke-width="1.7" stroke-linecap="butt"/>
<line x1="70" y1="1627.5" x2="70" y2="1595" stroke="#000" stroke-width="1.7" stroke-linecap="butt"/>
<line x1="64.7" y1="1632.3" x2="75.3" y2="1626.7" stroke="#000" stroke-width="1.9" stroke-linecap="butt"/>
<line x1="64.7" y1="1638.3" x2="75.3" y2="1632.7" stroke="#000" stroke-width="1.9" stroke-linecap="butt"/>
<line x1="70" y1="1958" x2="64.5" y2="1958" stroke="#000" stroke-width="1.8" stroke-linecap="butt"/>
<text x="60" y="1965" font-size="22" text-anchor="end" fill="#000" style="" >0</text>
<line x1="70" y1="1918.7" x2="67" y2="1918.7" stroke="#000" stroke-width="1.8" stroke-linecap="butt"/>
<line x1="70" y1="1879.4" x2="64.5" y2="1879.4" stroke="#000" stroke-width="1.8" stroke-linecap="butt"/>
<text x="60" y="1886.4" font-size="22" text-anchor="end" fill="#000" style="" >2</text>
<line x1="70" y1="1840.1" x2="67" y2="1840.1" stroke="#000" stroke-width="1.8" stroke-linecap="butt"/>
<line x1="70" y1="1800.8" x2="64.5" y2="1800.8" stroke="#000" stroke-width="1.8" stroke-linecap="butt"/>
<text x="60" y="1807.8" font-size="22" text-anchor="end" fill="#000" style="" >4</text>
<line x1="70" y1="1761.5" x2="67" y2="1761.5" stroke="#000" stroke-width="1.8" stroke-linecap="butt"/>
<line x1="70" y1="1722.2" x2="64.5" y2="1722.2" stroke="#000" stroke-width="1.8" stroke-linecap="butt"/>
<text x="60" y="1729.2" font-size="22" text-anchor="end" fill="#000" style="" >6</text>
<line x1="70" y1="1682.9" x2="67" y2="1682.9" stroke="#000" stroke-width="1.8" stroke-linecap="butt"/>
<line x1="70" y1="1643.6" x2="64.5" y2="1643.6" stroke="#000" stroke-width="1.8" stroke-linecap="butt"/>
<text x="60" y="1650.6" font-size="22" text-anchor="end" fill="#000" style="" >8</text>
<line x1="70" y1="1619" x2="64.5" y2="1619" stroke="#000" stroke-width="1.8" stroke-linecap="butt"/>
<text x="60" y="1626" font-size="22" text-anchor="end" fill="#000" style="" >18</text>
<line x1="70" y1="1607.5" x2="67" y2="1607.5" stroke="#000" stroke-width="1.8" stroke-linecap="butt"/>
<line x1="70" y1="1596" x2="64.5" y2="1596" stroke="#000" stroke-width="1.8" stroke-linecap="butt"/>
<text x="60" y="1603" font-size="22" text-anchor="end" fill="#000" style="" >20</text>
<text transform="translate(23.5,1771.7) rotate(-90)" font-size="29.6" text-anchor="middle">POC (mg/L)</text>
<text transform="translate(726.2,1772.8) rotate(-90)" font-size="29.4" text-anchor="middle">Tidal Height (cm)</text>
<text x="361.8" y="2024" font-size="29.2" text-anchor="middle" fill="#000" style="" >Hours</text>
<text x="357.2" y="2075" font-size="35.4" text-anchor="middle" fill="#000" style="" >Apr. 2018</text>
<rect x="787.96" y="1889.4" width="34.35" height="68.4" fill="url(#cross)" stroke="#000" stroke-width="2.4"/>
<rect x="832.24" y="1894.1" width="34.35" height="63.7" fill="url(#cross)" stroke="#000" stroke-width="2.4"/>
<line x1="849.42" y1="1892.1" x2="849.42" y2="1896.2" stroke="#000" stroke-width="2" stroke-linecap="butt"/>
<line x1="845.82" y1="1892.1" x2="853.02" y2="1892.1" stroke="#000" stroke-width="2.2" stroke-linecap="butt"/>
<line x1="845.82" y1="1896.2" x2="853.02" y2="1896.2" stroke="#000" stroke-width="2.2" stroke-linecap="butt"/>
<rect x="876.52" y="1877" width="34.35" height="80.8" fill="url(#cross)" stroke="#000" stroke-width="2.4"/>
<rect x="920.79" y="1852.1" width="34.35" height="105.7" fill="url(#cross)" stroke="#000" stroke-width="2.4"/>
<line x1="937.97" y1="1838.3" x2="937.97" y2="1866.8" stroke="#000" stroke-width="2" stroke-linecap="butt"/>
<line x1="934.37" y1="1838.3" x2="941.57" y2="1838.3" stroke="#000" stroke-width="2.2" stroke-linecap="butt"/>
<line x1="934.37" y1="1866.8" x2="941.57" y2="1866.8" stroke="#000" stroke-width="2.2" stroke-linecap="butt"/>
<rect x="965.07" y="1874.1" width="34.35" height="83.7" fill="url(#cross)" stroke="#000" stroke-width="2.4"/>
<line x1="982.25" y1="1868.9" x2="982.25" y2="1879.2" stroke="#000" stroke-width="2" stroke-linecap="butt"/>
<line x1="978.65" y1="1868.9" x2="985.85" y2="1868.9" stroke="#000" stroke-width="2.2" stroke-linecap="butt"/>
<line x1="978.65" y1="1879.2" x2="985.85" y2="1879.2" stroke="#000" stroke-width="2.2" stroke-linecap="butt"/>
<rect x="1009.35" y="1896.6" width="34.35" height="61.2" fill="url(#cross)" stroke="#000" stroke-width="2.4"/>
<line x1="1026.52" y1="1891.7" x2="1026.52" y2="1901.8" stroke="#000" stroke-width="2" stroke-linecap="butt"/>
<line x1="1022.92" y1="1891.7" x2="1030.12" y2="1891.7" stroke="#000" stroke-width="2.2" stroke-linecap="butt"/>
<line x1="1022.92" y1="1901.8" x2="1030.12" y2="1901.8" stroke="#000" stroke-width="2.2" stroke-linecap="butt"/>
<rect x="1053.63" y="1878.4" width="34.35" height="79.4" fill="url(#cross)" stroke="#000" stroke-width="2.4"/>
<line x1="1070.8" y1="1877.5" x2="1070.8" y2="1879.4" stroke="#000" stroke-width="2" stroke-linecap="butt"/>
<line x1="1067.2" y1="1877.5" x2="1074.4" y2="1877.5" stroke="#000" stroke-width="2.2" stroke-linecap="butt"/>
<line x1="1067.2" y1="1879.4" x2="1074.4" y2="1879.4" stroke="#000" stroke-width="2.2" stroke-linecap="butt"/>
<rect x="1097.9" y="1889.4" width="34.35" height="68.4" fill="url(#cross)" stroke="#000" stroke-width="2.4"/>
<line x1="1115.08" y1="1873.3" x2="1115.08" y2="1906.3" stroke="#000" stroke-width="2" stroke-linecap="butt"/>
<line x1="1111.48" y1="1873.3" x2="1118.68" y2="1873.3" stroke="#000" stroke-width="2.2" stroke-linecap="butt"/>
<line x1="1111.48" y1="1906.3" x2="1118.68" y2="1906.3" stroke="#000" stroke-width="2.2" stroke-linecap="butt"/>
<rect x="1142.18" y="1898.5" width="34.35" height="59.3" fill="url(#cross)" stroke="#000" stroke-width="2.4"/>
<line x1="1159.35" y1="1893.8" x2="1159.35" y2="1903.1" stroke="#000" stroke-width="2" stroke-linecap="butt"/>
<line x1="1155.75" y1="1893.8" x2="1162.95" y2="1893.8" stroke="#000" stroke-width="2.2" stroke-linecap="butt"/>
<line x1="1155.75" y1="1903.1" x2="1162.95" y2="1903.1" stroke="#000" stroke-width="2.2" stroke-linecap="butt"/>
<rect x="1186.46" y="1872.8" width="34.35" height="85" fill="url(#cross)" stroke="#000" stroke-width="2.4"/>
<rect x="1230.73" y="1850.5" width="34.35" height="107.3" fill="url(#cross)" stroke="#000" stroke-width="2.4"/>
<line x1="1247.91" y1="1840.3" x2="1247.91" y2="1860.8" stroke="#000" stroke-width="2" stroke-linecap="butt"/>
<line x1="1244.31" y1="1840.3" x2="1251.51" y2="1840.3" stroke="#000" stroke-width="2.2" stroke-linecap="butt"/>
<line x1="1244.31" y1="1860.8" x2="1251.51" y2="1860.8" stroke="#000" stroke-width="2.2" stroke-linecap="butt"/>
<rect x="1275.01" y="1874.4" width="34.35" height="83.4" fill="url(#cross)" stroke="#000" stroke-width="2.4"/>
<line x1="1292.18" y1="1865.3" x2="1292.18" y2="1881.9" stroke="#000" stroke-width="2" stroke-linecap="butt"/>
<line x1="1288.58" y1="1865.3" x2="1295.78" y2="1865.3" stroke="#000" stroke-width="2.2" stroke-linecap="butt"/>
<line x1="1288.58" y1="1881.9" x2="1295.78" y2="1881.9" stroke="#000" stroke-width="2.2" stroke-linecap="butt"/>
<rect x="1319.29" y="1900.1" width="34.35" height="57.7" fill="url(#cross)" stroke="#000" stroke-width="2.4"/>
<line x1="1336.46" y1="1874" x2="1336.46" y2="1924.7" stroke="#000" stroke-width="2" stroke-linecap="butt"/>
<line x1="1332.86" y1="1874" x2="1340.06" y2="1874" stroke="#000" stroke-width="2.2" stroke-linecap="butt"/>
<line x1="1332.86" y1="1924.7" x2="1340.06" y2="1924.7" stroke="#000" stroke-width="2.2" stroke-linecap="butt"/>
<polyline fill="none" stroke="#0000dc" stroke-width="2.2" stroke-linejoin="round" points="783,1907.6 805.14,1906.6 849.42,1862.1 893.69,1785.9 937.97,1706.7 982.25,1649.9 1026.52,1627.1 1070.8,1644.6 1115.08,1694.2 1159.35,1757.8 1203.63,1818.7 1247.91,1871.7 1292.18,1908.1 1336.46,1914.5 1358.6,1900.1"/>
<rect x="802.64" y="1904.1" width="5" height="5" fill="#0000dc"/>
<rect x="846.92" y="1859.6" width="5" height="5" fill="#0000dc"/>
<rect x="891.19" y="1783.4" width="5" height="5" fill="#0000dc"/>
<rect x="935.47" y="1704.2" width="5" height="5" fill="#0000dc"/>
<rect x="979.75" y="1647.4" width="5" height="5" fill="#0000dc"/>
<rect x="1024.02" y="1624.6" width="5" height="5" fill="#0000dc"/>
<rect x="1068.3" y="1642.1" width="5" height="5" fill="#0000dc"/>
<rect x="1112.58" y="1691.7" width="5" height="5" fill="#0000dc"/>
<rect x="1156.85" y="1755.3" width="5" height="5" fill="#0000dc"/>
<rect x="1201.13" y="1816.2" width="5" height="5" fill="#0000dc"/>
<rect x="1245.41" y="1869.2" width="5" height="5" fill="#0000dc"/>
<rect x="1289.68" y="1905.6" width="5" height="5" fill="#0000dc"/>
<rect x="1333.96" y="1912" width="5" height="5" fill="#0000dc"/>
<line x1="782" y1="1957.8" x2="1359.6" y2="1957.8" stroke="#000" stroke-width="1.8" stroke-linecap="butt"/>
<line x1="805.14" y1="1957.8" x2="805.14" y2="1962.8" stroke="#000" stroke-width="1.6" stroke-linecap="butt"/>
<text x="805.14" y="1984" font-size="22" text-anchor="middle" fill="#000" style="" >7</text>
<line x1="849.42" y1="1957.8" x2="849.42" y2="1962.8" stroke="#000" stroke-width="1.6" stroke-linecap="butt"/>
<text x="849.42" y="1984" font-size="22" text-anchor="middle" fill="#000" style="" >8</text>
<line x1="893.69" y1="1957.8" x2="893.69" y2="1962.8" stroke="#000" stroke-width="1.6" stroke-linecap="butt"/>
<text x="893.69" y="1984" font-size="22" text-anchor="middle" fill="#000" style="" >9</text>
<line x1="937.97" y1="1957.8" x2="937.97" y2="1962.8" stroke="#000" stroke-width="1.6" stroke-linecap="butt"/>
<text x="937.97" y="1984" font-size="22" text-anchor="middle" fill="#000" style="" >10</text>
<line x1="982.25" y1="1957.8" x2="982.25" y2="1962.8" stroke="#000" stroke-width="1.6" stroke-linecap="butt"/>
<text x="982.25" y="1984" font-size="22" text-anchor="middle" fill="#000" style="" >11</text>
<line x1="1026.52" y1="1957.8" x2="1026.52" y2="1962.8" stroke="#000" stroke-width="1.6" stroke-linecap="butt"/>
<text x="1026.52" y="1984" font-size="22" text-anchor="middle" fill="#000" style="" >12</text>
<line x1="1070.8" y1="1957.8" x2="1070.8" y2="1962.8" stroke="#000" stroke-width="1.6" stroke-linecap="butt"/>
<text x="1070.8" y="1984" font-size="22" text-anchor="middle" fill="#000" style="" >13</text>
<line x1="1115.08" y1="1957.8" x2="1115.08" y2="1962.8" stroke="#000" stroke-width="1.6" stroke-linecap="butt"/>
<text x="1115.08" y="1984" font-size="22" text-anchor="middle" fill="#000" style="" >14</text>
<line x1="1159.35" y1="1957.8" x2="1159.35" y2="1962.8" stroke="#000" stroke-width="1.6" stroke-linecap="butt"/>
<text x="1159.35" y="1984" font-size="22" text-anchor="middle" fill="#000" style="" >15</text>
<line x1="1203.63" y1="1957.8" x2="1203.63" y2="1962.8" stroke="#000" stroke-width="1.6" stroke-linecap="butt"/>
<text x="1203.63" y="1984" font-size="22" text-anchor="middle" fill="#000" style="" >16</text>
<line x1="1247.91" y1="1957.8" x2="1247.91" y2="1962.8" stroke="#000" stroke-width="1.6" stroke-linecap="butt"/>
<text x="1247.91" y="1984" font-size="22" text-anchor="middle" fill="#000" style="" >17</text>
<line x1="1292.18" y1="1957.8" x2="1292.18" y2="1962.8" stroke="#000" stroke-width="1.6" stroke-linecap="butt"/>
<text x="1292.18" y="1984" font-size="22" text-anchor="middle" fill="#000" style="" >18</text>
<line x1="1336.46" y1="1957.8" x2="1336.46" y2="1962.8" stroke="#000" stroke-width="1.6" stroke-linecap="butt"/>
<text x="1336.46" y="1984" font-size="22" text-anchor="middle" fill="#000" style="" >19</text>
<line x1="783" y1="1957.8" x2="783" y2="1960.8" stroke="#000" stroke-width="1.3" stroke-linecap="butt"/>
<line x1="827.28" y1="1957.8" x2="827.28" y2="1960.8" stroke="#000" stroke-width="1.3" stroke-linecap="butt"/>
<line x1="871.55" y1="1957.8" x2="871.55" y2="1960.8" stroke="#000" stroke-width="1.3" stroke-linecap="butt"/>
<line x1="915.83" y1="1957.8" x2="915.83" y2="1960.8" stroke="#000" stroke-width="1.3" stroke-linecap="butt"/>
<line x1="960.11" y1="1957.8" x2="960.11" y2="1960.8" stroke="#000" stroke-width="1.3" stroke-linecap="butt"/>
<line x1="1004.38" y1="1957.8" x2="1004.38" y2="1960.8" stroke="#000" stroke-width="1.3" stroke-linecap="butt"/>
<line x1="1048.66" y1="1957.8" x2="1048.66" y2="1960.8" stroke="#000" stroke-width="1.3" stroke-linecap="butt"/>
<line x1="1092.94" y1="1957.8" x2="1092.94" y2="1960.8" stroke="#000" stroke-width="1.3" stroke-linecap="butt"/>
<line x1="1137.22" y1="1957.8" x2="1137.22" y2="1960.8" stroke="#000" stroke-width="1.3" stroke-linecap="butt"/>
<line x1="1181.49" y1="1957.8" x2="1181.49" y2="1960.8" stroke="#000" stroke-width="1.3" stroke-linecap="butt"/>
<line x1="1225.77" y1="1957.8" x2="1225.77" y2="1960.8" stroke="#000" stroke-width="1.3" stroke-linecap="butt"/>
<line x1="1270.05" y1="1957.8" x2="1270.05" y2="1960.8" stroke="#000" stroke-width="1.3" stroke-linecap="butt"/>
<line x1="1314.32" y1="1957.8" x2="1314.32" y2="1960.8" stroke="#000" stroke-width="1.3" stroke-linecap="butt"/>
<line x1="1358.6" y1="1957.8" x2="1358.6" y2="1960.8" stroke="#000" stroke-width="1.3" stroke-linecap="butt"/>
<line x1="783" y1="1596" x2="783" y2="1958.8" stroke="#0000dc" stroke-width="1.8" stroke-linecap="butt"/>
<line x1="783" y1="1957.8" x2="777.5" y2="1957.8" stroke="#0000dc" stroke-width="1.8" stroke-linecap="butt"/>
<text x="773" y="1964.8" font-size="22" text-anchor="end" fill="#0000dc" style="" >0</text>
<line x1="783" y1="1917.6" x2="779.5" y2="1917.6" stroke="#0000dc" stroke-width="1.8" stroke-linecap="butt"/>
<line x1="783" y1="1877.4" x2="777.5" y2="1877.4" stroke="#0000dc" stroke-width="1.8" stroke-linecap="butt"/>
<text x="773" y="1884.4" font-size="22" text-anchor="end" fill="#0000dc" style="" >100</text>
<line x1="783" y1="1837.2" x2="779.5" y2="1837.2" stroke="#0000dc" stroke-width="1.8" stroke-linecap="butt"/>
<line x1="783" y1="1797" x2="777.5" y2="1797" stroke="#0000dc" stroke-width="1.8" stroke-linecap="butt"/>
<text x="773" y="1804" font-size="22" text-anchor="end" fill="#0000dc" style="" >200</text>
<line x1="783" y1="1756.8" x2="779.5" y2="1756.8" stroke="#0000dc" stroke-width="1.8" stroke-linecap="butt"/>
<line x1="783" y1="1716.6" x2="777.5" y2="1716.6" stroke="#0000dc" stroke-width="1.8" stroke-linecap="butt"/>
<text x="773" y="1723.6" font-size="22" text-anchor="end" fill="#0000dc" style="" >300</text>
<line x1="783" y1="1676.4" x2="779.5" y2="1676.4" stroke="#0000dc" stroke-width="1.8" stroke-linecap="butt"/>
<line x1="783" y1="1636.2" x2="777.5" y2="1636.2" stroke="#0000dc" stroke-width="1.8" stroke-linecap="butt"/>
<text x="773" y="1643.2" font-size="22" text-anchor="end" fill="#0000dc" style="" >400</text>
<line x1="783" y1="1596" x2="779.5" y2="1596" stroke="#0000dc" stroke-width="1.8" stroke-linecap="butt"/>
<line x1="1358.6" y1="1958.8" x2="1358.6" y2="1634.3" stroke="#000" stroke-width="1.7" stroke-linecap="butt"/>
<line x1="1358.6" y1="1626.8" x2="1358.6" y2="1595" stroke="#000" stroke-width="1.7" stroke-linecap="butt"/>
<line x1="1353.3" y1="1631.6" x2="1363.9" y2="1626" stroke="#000" stroke-width="1.9" stroke-linecap="butt"/>
<line x1="1353.3" y1="1637.6" x2="1363.9" y2="1632" stroke="#000" stroke-width="1.9" stroke-linecap="butt"/>
<line x1="1358.6" y1="1957.8" x2="1364.1" y2="1957.8" stroke="#000" stroke-width="1.8" stroke-linecap="butt"/>
<text x="1367.6" y="1964.8" font-size="22" text-anchor="start" fill="#000" style="" >0</text>
<line x1="1358.6" y1="1918.4" x2="1361.6" y2="1918.4" stroke="#000" stroke-width="1.8" stroke-linecap="butt"/>
<line x1="1358.6" y1="1879" x2="1364.1" y2="1879" stroke="#000" stroke-width="1.8" stroke-linecap="butt"/>
<text x="1367.6" y="1886" font-size="22" text-anchor="start" fill="#000" style="" >2</text>
<line x1="1358.6" y1="1839.6" x2="1361.6" y2="1839.6" stroke="#000" stroke-width="1.8" stroke-linecap="butt"/>
<line x1="1358.6" y1="1800.2" x2="1364.1" y2="1800.2" stroke="#000" stroke-width="1.8" stroke-linecap="butt"/>
<text x="1367.6" y="1807.2" font-size="22" text-anchor="start" fill="#000" style="" >4</text>
<line x1="1358.6" y1="1760.8" x2="1361.6" y2="1760.8" stroke="#000" stroke-width="1.8" stroke-linecap="butt"/>
<line x1="1358.6" y1="1721.4" x2="1364.1" y2="1721.4" stroke="#000" stroke-width="1.8" stroke-linecap="butt"/>
<text x="1367.6" y="1728.4" font-size="22" text-anchor="start" fill="#000" style="" >6</text>
<line x1="1358.6" y1="1682" x2="1361.6" y2="1682" stroke="#000" stroke-width="1.8" stroke-linecap="butt"/>
<line x1="1358.6" y1="1642.6" x2="1364.1" y2="1642.6" stroke="#000" stroke-width="1.8" stroke-linecap="butt"/>
<text x="1367.6" y="1649.6" font-size="22" text-anchor="start" fill="#000" style="" >8</text>
<line x1="1358.6" y1="1619.6" x2="1364.1" y2="1619.6" stroke="#000" stroke-width="1.8" stroke-linecap="butt"/>
<text x="1367.6" y="1626.6" font-size="22" text-anchor="start" fill="#000" style="" >18</text>
<line x1="1358.6" y1="1607.5" x2="1361.6" y2="1607.5" stroke="#000" stroke-width="1.8" stroke-linecap="butt"/>
<line x1="1358.6" y1="1595.7" x2="1364.1" y2="1595.7" stroke="#000" stroke-width="1.8" stroke-linecap="butt"/>
<text x="1367.6" y="1602.7" font-size="22" text-anchor="start" fill="#000" style="" >20</text>
<text transform="translate(1420.5,1772) rotate(-90)" font-size="29.7" text-anchor="middle">DOC (mg/L)</text>
<text x="1076" y="2024" font-size="29.2" text-anchor="middle" fill="#000" style="" >Hours</text>
<text x="1071.5" y="2073" font-size="35.4" text-anchor="middle" fill="#000" style="" >Apr. 2018</text>
<rect x="1215" y="2.5" width="63" height="32" fill="url(#hatch)" stroke="#000" stroke-width="3" rx="1"/>
<rect x="1215" y="40.5" width="63" height="32" fill="url(#cross)" stroke="#000" stroke-width="3" rx="1"/>
<line x1="1214" y1="92.5" x2="1279" y2="92.5" stroke="#0000dc" stroke-width="2.8" stroke-linecap="butt"/>
<rect x="1244.3" y="90.3" width="4.4" height="4.4" fill="#0000dc"/>
<text x="1288.5" y="28.5" font-size="29.2" text-anchor="start" fill="#000" style="" >POC</text>
<text x="1288.5" y="65" font-size="29.2" text-anchor="start" fill="#000" style="" >DOC</text>
<text x="1288.5" y="101.5" font-size="29.6" text-anchor="start" fill="#000" style="" >Tidal Height</text>
</svg></body></html>
